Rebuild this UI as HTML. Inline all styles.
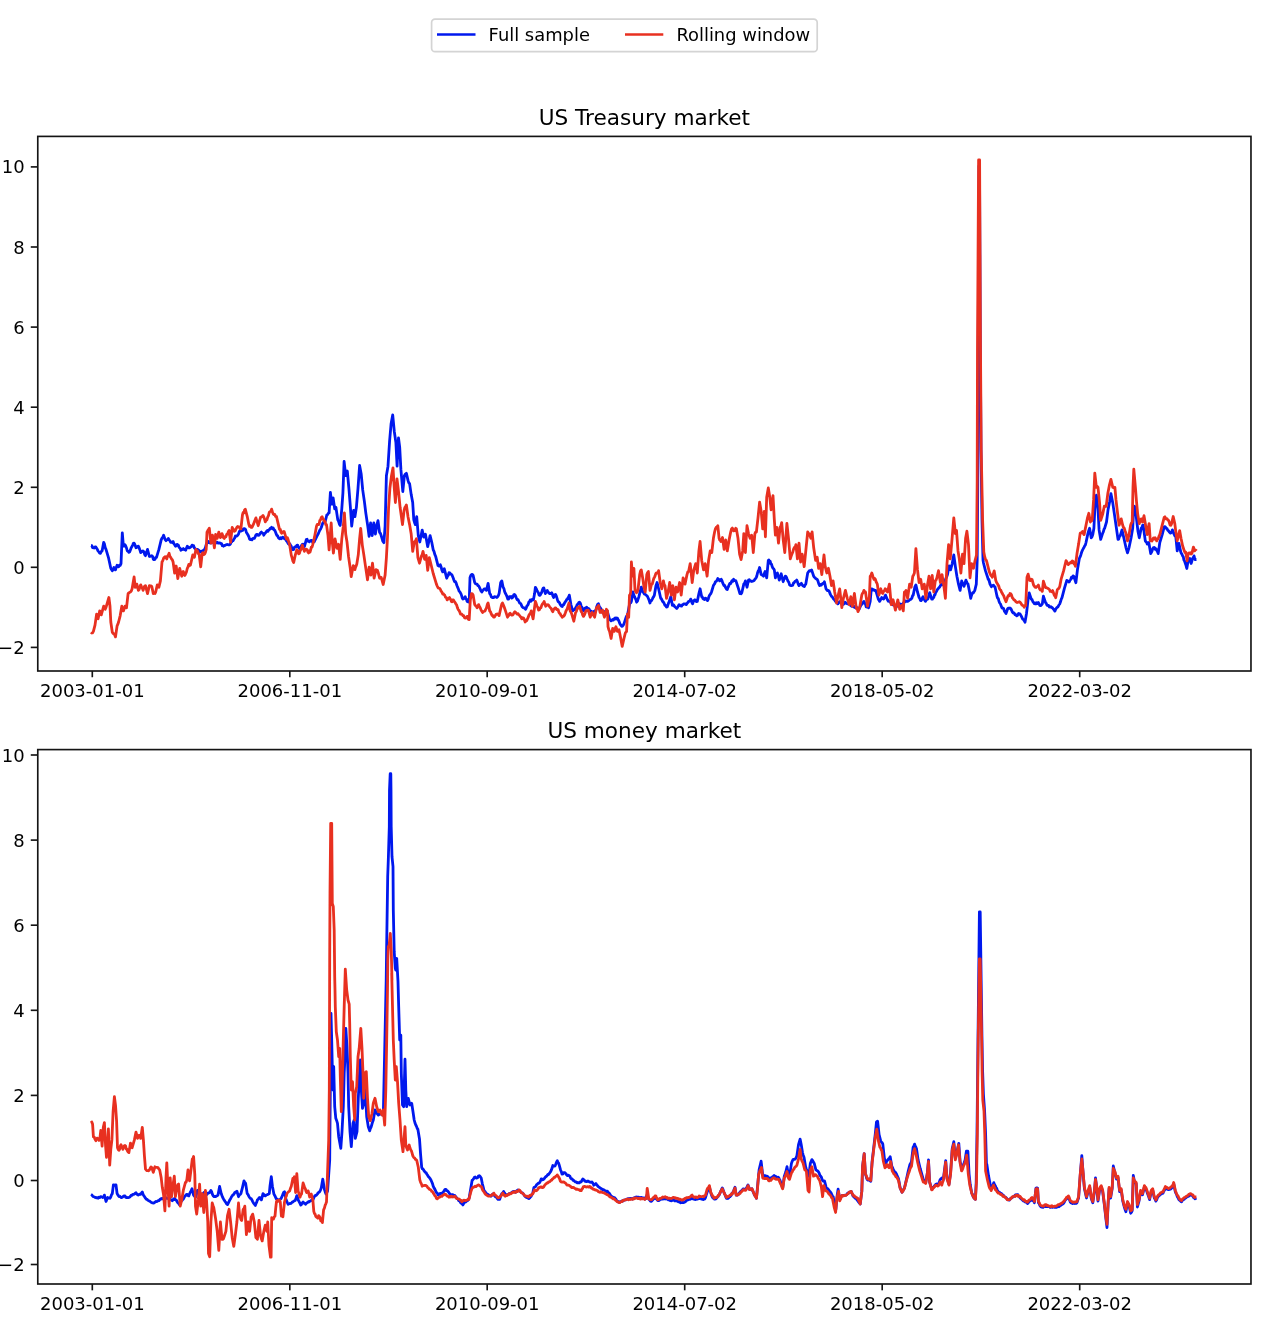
<!DOCTYPE html>
<html><head><meta charset="utf-8"><title>chart</title>
<style>html,body{margin:0;padding:0;background:#fff}</style></head>
<body>
<svg width="1268" height="1321" viewBox="0 0 1268 1321" style="display:block;filter:blur(0.4px)" font-family="'DejaVu Sans','Liberation Sans',sans-serif" fill="#000">
<rect width="1268" height="1321" fill="#fff"/>
<rect x="431.6" y="19.2" width="385.6" height="32.4" rx="3.4" fill="#fff" stroke="#d4d4d4" stroke-width="1.7"/>
<line x1="437" y1="34.5" x2="475.5" y2="34.5" stroke="#0018ee" stroke-width="2.6"/>
<line x1="625" y1="34.5" x2="663.3" y2="34.5" stroke="#e83020" stroke-width="2.6"/>
<text x="488.6" y="40.8" font-size="17.9">Full sample</text>
<text x="676.4" y="40.8" font-size="17.9">Rolling window</text>
<text x="644.4" y="125.3" font-size="21.6" text-anchor="middle">US Treasury market</text>
<g stroke="#141414" stroke-width="1.65" fill="none">
<line x1="92.3" y1="670.95" x2="92.3" y2="677.25"/>
<line x1="289.8" y1="670.95" x2="289.8" y2="677.25"/>
<line x1="487.2" y1="670.95" x2="487.2" y2="677.25"/>
<line x1="684.7" y1="670.95" x2="684.7" y2="677.25"/>
<line x1="882.2" y1="670.95" x2="882.2" y2="677.25"/>
<line x1="1079.7" y1="670.95" x2="1079.7" y2="677.25"/>
<line x1="30.77" y1="647.4" x2="37.77" y2="647.4"/>
<line x1="30.77" y1="567.3" x2="37.77" y2="567.3"/>
<line x1="30.77" y1="487.3" x2="37.77" y2="487.3"/>
<line x1="30.77" y1="407.2" x2="37.77" y2="407.2"/>
<line x1="30.77" y1="327.1" x2="37.77" y2="327.1"/>
<line x1="30.77" y1="247.0" x2="37.77" y2="247.0"/>
<line x1="30.77" y1="166.9" x2="37.77" y2="166.9"/>
</g>
<text x="92.3" y="697.2" font-size="18.0" text-anchor="middle">2003-01-01</text>
<text x="289.8" y="697.2" font-size="18.0" text-anchor="middle">2006-11-01</text>
<text x="487.2" y="697.2" font-size="18.0" text-anchor="middle">2010-09-01</text>
<text x="684.7" y="697.2" font-size="18.0" text-anchor="middle">2014-07-02</text>
<text x="882.2" y="697.2" font-size="18.0" text-anchor="middle">2018-05-02</text>
<text x="1079.7" y="697.2" font-size="18.0" text-anchor="middle">2022-03-02</text>
<text x="24.6" y="653.9" font-size="18.0" text-anchor="end">−2</text>
<text x="24.6" y="573.8" font-size="18.0" text-anchor="end">0</text>
<text x="24.6" y="493.8" font-size="18.0" text-anchor="end">2</text>
<text x="24.6" y="413.7" font-size="18.0" text-anchor="end">4</text>
<text x="24.6" y="333.6" font-size="18.0" text-anchor="end">6</text>
<text x="24.6" y="253.5" font-size="18.0" text-anchor="end">8</text>
<text x="24.6" y="173.4" font-size="18.0" text-anchor="end">10</text>
<g fill="none" stroke-width="2.8" stroke-linejoin="round" stroke-linecap="butt">
<path stroke="#0018ee" d="M91.0,545.5 L91.8,545.6 L92.6,547.7 L93.4,547.8 L94.2,548.0 L95.0,546.9 L95.8,547.0 L96.6,548.3 L97.4,549.6 L98.1,551.0 L98.9,552.0 L99.7,553.1 L100.5,553.3 L101.3,551.4 L102.1,551.0 L103.7,542.3 L104.4,543.8 L105.2,547.6 L106.0,549.4 L108.4,557.3 L110.8,568.3 L111.5,569.4 L112.3,570.7 L113.1,569.6 L113.9,567.5 L114.7,567.8 L115.5,569.9 L116.3,567.4 L117.1,565.2 L117.9,566.4 L118.6,566.8 L119.4,565.2 L120.2,565.4 L121.0,563.6 L122.3,532.8 L123.4,546.2 L124.2,546.2 L125.0,544.7 L125.7,545.9 L126.5,548.0 L127.3,551.0 L128.1,551.3 L128.9,552.3 L129.7,551.8 L130.5,549.7 L131.3,547.6 L132.1,546.2 L132.7,545.1 L133.4,543.3 L134.1,543.1 L134.7,544.2 L135.4,546.1 L136.0,547.8 L136.8,547.3 L137.6,546.3 L138.4,546.2 L139.1,547.9 L139.9,549.9 L140.7,552.6 L141.5,552.0 L142.3,551.1 L143.1,551.0 L143.9,551.7 L144.7,554.7 L145.5,555.7 L147.5,549.4 L149.4,556.5 L150.2,556.3 L151.0,556.2 L151.8,555.7 L152.6,556.5 L153.3,559.2 L154.1,559.7 L154.9,559.5 L155.7,557.4 L156.5,557.3 L158.9,549.4 L161.2,539.9 L162.0,538.1 L162.8,537.2 L163.6,535.2 L164.4,537.4 L165.2,539.7 L166.0,540.7 L166.8,539.8 L167.5,539.7 L168.3,538.4 L169.1,540.0 L169.9,540.6 L170.7,542.3 L171.5,542.2 L172.3,542.5 L173.1,541.5 L173.8,543.7 L174.6,544.7 L175.4,546.2 L176.2,545.9 L177.0,544.4 L177.8,544.7 L178.4,545.3 L179.1,547.4 L179.7,547.8 L180.3,548.5 L180.9,550.2 L181.7,549.8 L182.5,549.5 L183.3,548.6 L184.1,549.5 L184.9,549.4 L185.7,550.2 L186.5,548.1 L187.3,546.2 L188.0,546.8 L188.8,547.8 L189.6,547.8 L190.3,547.4 L190.9,546.7 L191.5,546.4 L192.1,545.1 L192.8,545.5 L193.6,545.7 L194.4,547.9 L195.1,548.6 L195.9,549.7 L196.7,549.3 L197.5,549.4 L198.3,550.0 L199.1,550.4 L199.9,551.8 L200.7,551.5 L201.5,552.1 L202.2,551.0 L203.0,550.9 L203.8,550.0 L204.6,549.4 L205.4,547.7 L206.2,544.7 L207.0,543.1 L207.8,542.6 L208.5,541.5 L209.3,542.9 L210.1,542.7 L210.9,543.1 L211.5,542.7 L212.2,542.0 L212.8,542.2 L213.4,542.7 L214.1,541.5 L214.7,540.8 L215.3,542.3 L216.0,542.6 L216.6,542.8 L217.2,542.3 L217.9,542.9 L218.5,543.2 L219.1,542.8 L219.7,543.0 L220.4,543.1 L221.0,543.6 L221.6,543.6 L222.3,545.7 L222.9,545.7 L223.5,546.2 L224.2,545.4 L224.8,545.6 L225.4,545.3 L226.1,544.7 L226.7,544.7 L227.3,544.4 L227.9,544.7 L228.6,544.9 L229.2,544.9 L229.8,544.7 L230.5,543.8 L231.1,542.2 L231.7,541.8 L232.4,540.9 L233.0,540.7 L233.8,539.3 L234.6,538.2 L235.4,536.0 L236.2,536.3 L236.9,536.0 L237.7,535.2 L238.5,534.2 L239.3,531.6 L240.1,530.5 L240.9,531.1 L241.7,530.8 L242.5,530.5 L243.2,529.2 L244.0,528.6 L244.8,528.9 L245.6,529.6 L246.4,532.5 L247.2,533.6 L248.0,535.0 L248.8,536.6 L249.6,539.1 L250.3,539.6 L251.1,539.4 L251.9,539.9 L252.7,538.6 L253.5,538.3 L254.3,538.4 L255.1,537.1 L255.9,535.1 L256.7,534.4 L257.4,534.3 L258.2,535.3 L259.0,535.2 L259.8,534.1 L260.6,532.8 L261.4,532.1 L262.2,533.1 L263.0,533.3 L263.8,535.2 L264.5,533.9 L265.3,533.0 L266.1,532.1 L266.8,531.0 L267.4,530.4 L268.0,531.4 L268.6,530.2 L269.3,529.7 L270.1,528.4 L270.9,528.3 L271.6,527.3 L272.4,528.7 L273.2,528.0 L274.0,529.7 L274.8,530.4 L275.6,532.2 L276.4,534.4 L277.0,535.7 L277.6,535.6 L278.2,537.4 L278.8,538.2 L279.5,538.8 L280.1,538.6 L280.7,537.7 L281.4,538.7 L282.0,538.1 L282.6,537.2 L283.2,537.7 L283.9,537.7 L284.5,538.9 L285.1,538.9 L285.8,539.6 L286.6,541.0 L287.4,541.9 L288.1,543.5 L288.9,544.3 L289.7,543.8 L290.5,545.1 L291.3,546.3 L292.1,549.1 L292.9,549.8 L293.7,549.5 L294.4,547.4 L295.2,546.7 L296.0,546.8 L296.8,545.3 L297.6,545.1 L298.4,547.2 L299.2,548.2 L300.0,549.1 L300.8,547.3 L301.5,545.5 L302.3,544.3 L303.0,544.2 L303.7,546.6 L304.4,546.7 L306.3,539.6 L307.1,539.3 L307.9,541.2 L308.6,541.2 L309.4,541.7 L310.2,540.8 L311.0,540.4 L311.8,540.3 L312.6,542.1 L313.4,542.0 L314.2,541.8 L315.0,540.2 L315.7,538.8 L316.5,537.2 L317.3,535.4 L318.1,534.1 L318.9,532.2 L319.7,530.4 L320.5,529.3 L321.3,527.5 L322.1,525.0 L322.8,523.0 L323.6,522.0 L324.4,521.3 L325.2,521.5 L326.8,515.1 L327.6,514.7 L328.4,513.2 L329.1,512.8 L330.4,492.3 L331.8,504.1 L333.1,497.8 L334.7,508.8 L335.3,508.0 L335.9,507.3 L337.8,519.9 L338.6,521.4 L339.4,524.2 L340.2,525.4 L341.8,508.8 L342.9,493.1 L344.1,461.5 L345.7,475.7 L346.5,474.1 L347.3,471.0 L348.9,488.3 L350.4,507.3 L351.7,526.2 L353.6,510.4 L354.9,516.7 L356.4,507.3 L358.0,488.3 L359.6,465.5 L361.2,474.1 L362.7,489.9 L364.3,500.9 L365.9,513.6 L367.8,526.2 L369.1,536.4 L370.6,523.0 L372.2,535.6 L373.8,523.0 L375.4,534.1 L376.9,524.6 L378.0,520.7 L379.6,532.5 L380.4,533.2 L381.2,535.6 L382.8,541.2 L383.9,542.7 L385.1,526.2 L386.4,475.7 L388.0,466.2 L389.6,441.0 L391.1,423.7 L392.7,415.0 L394.3,431.5 L395.9,442.6 L397.1,466.2 L398.5,437.9 L399.7,447.3 L400.9,469.4 L402.8,491.5 L404.4,475.7 L405.1,474.4 L405.8,473.8 L406.4,473.3 L408.0,480.4 L408.8,482.9 L409.6,483.6 L411.2,494.6 L412.7,502.5 L413.8,519.9 L414.6,522.7 L415.4,524.6 L416.7,516.7 L418.3,535.6 L419.8,542.0 L422.2,530.1 L423.8,537.2 L424.6,535.4 L425.4,534.1 L427.7,546.7 L430.1,535.6 L431.7,542.0 L433.2,549.8 L434.0,551.4 L434.8,554.4 L435.6,556.2 L438.0,565.6 L438.8,566.0 L439.6,565.9 L440.3,564.8 L441.1,566.9 L441.9,570.2 L442.7,571.9 L443.5,570.7 L444.3,568.8 L446.7,578.2 L447.4,576.4 L448.2,575.4 L449.0,572.7 L449.8,572.8 L450.6,574.2 L451.4,574.3 L452.2,575.4 L453.0,577.4 L453.8,579.8 L454.5,581.6 L455.3,581.4 L456.1,583.0 L456.9,585.5 L457.7,587.4 L458.5,589.3 L459.1,591.2 L459.7,591.6 L460.4,592.8 L461.0,593.9 L461.6,595.6 L462.3,598.0 L462.9,599.1 L463.7,598.5 L464.4,598.3 L465.2,596.7 L465.9,599.0 L466.5,599.2 L467.1,601.5 L467.8,601.8 L468.5,601.3 L469.2,602.2 L470.0,577.8 L470.8,575.4 L471.5,574.6 L472.3,574.3 L473.1,575.4 L474.7,582.5 L475.5,583.7 L476.3,584.1 L477.1,584.1 L477.9,585.7 L478.6,585.9 L479.4,587.3 L480.2,589.0 L481.0,590.9 L481.8,592.0 L482.6,590.7 L483.4,590.0 L484.2,588.8 L485.0,588.9 L485.7,589.1 L486.5,590.4 L488.1,583.3 L489.7,593.6 L490.5,594.5 L491.3,596.9 L492.1,597.5 L492.8,597.4 L493.6,597.7 L494.4,596.7 L495.2,596.9 L496.0,596.8 L496.8,597.5 L497.6,596.7 L498.4,595.5 L499.1,593.6 L500.7,582.5 L501.8,580.9 L503.1,587.3 L503.9,588.5 L504.7,591.8 L505.5,593.6 L506.2,594.7 L507.0,596.6 L507.8,599.1 L508.6,599.0 L509.4,596.7 L510.2,596.7 L511.0,596.5 L511.8,598.1 L512.6,597.5 L513.2,596.3 L513.8,594.7 L514.4,594.4 L515.1,595.1 L515.8,596.5 L516.5,598.3 L517.3,599.8 L518.1,599.7 L518.9,601.5 L519.7,603.2 L520.4,603.3 L521.2,604.6 L522.0,606.5 L522.8,607.4 L523.6,607.8 L524.2,607.9 L524.9,608.4 L525.5,609.3 L526.2,608.0 L526.9,606.0 L527.5,605.4 L528.2,604.4 L528.9,601.9 L529.6,601.5 L530.2,600.0 L530.9,601.3 L531.5,599.9 L532.1,599.5 L532.7,600.0 L533.4,599.9 L534.6,593.6 L535.4,587.3 L536.2,588.7 L537.0,590.4 L537.7,591.7 L538.4,592.8 L539.1,595.1 L539.7,595.4 L540.3,594.9 L540.9,593.6 L541.7,592.4 L542.5,589.6 L543.2,588.1 L543.8,588.0 L545.4,593.6 L546.0,592.0 L546.6,591.7 L547.3,590.4 L548.0,592.3 L548.8,592.6 L549.6,593.6 L550.3,593.6 L551.0,593.3 L551.7,592.8 L552.3,593.9 L552.9,596.0 L553.6,597.5 L554.2,596.1 L554.8,594.9 L555.5,594.4 L556.1,595.4 L556.8,597.6 L557.5,599.9 L558.2,601.8 L558.9,601.9 L559.6,603.0 L560.2,604.4 L560.8,605.4 L561.5,606.2 L562.2,606.5 L563.0,604.9 L563.8,604.6 L564.6,602.9 L565.4,601.7 L566.2,600.7 L566.8,599.3 L567.4,599.2 L568.1,597.5 L568.7,597.0 L569.3,595.1 L570.9,604.6 L572.8,610.9 L573.5,610.0 L574.2,609.6 L574.9,609.3 L575.6,607.8 L576.4,606.3 L577.2,604.6 L578.0,604.0 L578.8,602.6 L579.6,602.2 L580.4,603.3 L581.2,606.2 L582.0,607.3 L582.7,608.6 L583.5,610.9 L584.3,610.0 L585.1,608.0 L585.9,607.8 L586.7,607.3 L587.5,608.5 L588.3,608.5 L589.1,609.0 L589.8,610.7 L590.6,610.9 L591.4,611.4 L592.2,612.6 L593.0,612.5 L593.8,611.3 L594.6,611.4 L595.4,610.9 L596.2,609.1 L596.9,606.2 L597.7,604.2 L598.5,603.8 L599.3,606.6 L600.1,607.8 L600.9,608.7 L601.7,611.4 L602.5,612.5 L603.2,613.1 L604.0,612.5 L604.8,611.7 L605.6,611.1 L606.4,610.5 L607.2,610.9 L609.6,619.6 L610.3,619.9 L611.1,620.9 L611.9,620.4 L612.7,619.5 L613.5,620.0 L614.3,618.8 L615.1,617.9 L615.9,619.0 L616.7,618.0 L617.4,618.2 L618.2,619.8 L619.0,621.2 L619.8,623.5 L620.6,624.9 L621.4,625.9 L622.0,626.4 L622.6,626.0 L623.3,625.1 L624.0,623.7 L624.6,621.8 L625.3,619.6 L626.1,617.2 L626.9,615.8 L627.7,614.1 L629.5,604.6 L630.1,602.9 L630.7,602.9 L631.4,601.4 L632.9,592.0 L633.7,594.6 L634.5,596.7 L635.2,598.1 L635.9,599.6 L636.6,602.2 L637.4,601.2 L638.1,599.1 L638.9,596.7 L641.3,587.2 L642.1,589.7 L642.9,592.0 L643.7,592.8 L644.4,594.2 L645.2,594.3 L646.0,595.0 L646.8,595.7 L647.6,596.7 L648.4,598.5 L649.2,600.5 L650.0,603.0 L650.8,600.8 L651.5,600.6 L652.3,599.1 L653.0,597.6 L653.7,596.6 L654.4,595.1 L656.0,585.6 L657.1,582.5 L658.6,588.8 L660.7,598.3 L661.3,598.5 L662.0,600.1 L662.6,601.4 L663.4,602.1 L664.2,603.4 L665.0,605.4 L665.7,605.5 L666.5,607.0 L667.3,606.9 L667.9,604.9 L668.6,603.1 L669.2,601.4 L670.0,599.3 L670.8,596.7 L672.4,605.4 L673.0,605.1 L673.7,605.0 L674.4,606.2 L675.2,607.0 L676.0,607.7 L676.8,608.5 L677.6,607.5 L678.4,605.8 L679.1,604.6 L679.9,605.4 L680.7,606.0 L681.5,606.2 L682.3,604.9 L683.1,604.6 L683.9,603.8 L684.7,604.0 L685.5,603.8 L686.2,604.6 L687.0,603.4 L687.8,602.6 L688.6,601.4 L689.3,601.4 L690.0,600.6 L690.7,599.1 L691.3,600.2 L691.9,602.5 L692.6,603.8 L693.3,601.7 L694.1,600.4 L694.9,599.8 L695.7,600.4 L696.5,601.6 L697.3,601.4 L698.9,593.5 L700.1,588.8 L701.7,596.7 L702.3,596.9 L703.0,598.7 L703.6,599.1 L704.4,599.5 L705.2,598.2 L706.0,598.3 L706.8,599.8 L707.5,600.6 L708.2,599.4 L708.9,596.7 L709.6,595.1 L710.2,594.4 L710.9,593.4 L711.5,592.0 L713.4,585.6 L714.1,584.5 L714.7,583.7 L715.4,581.7 L716.2,581.4 L717.0,580.4 L717.8,578.5 L718.4,579.5 L719.1,579.5 L719.7,580.9 L720.5,579.7 L721.3,579.3 L721.9,580.4 L722.6,582.6 L723.3,584.1 L724.0,585.6 L724.7,585.4 L725.4,587.2 L726.0,588.3 L726.6,589.2 L727.3,589.6 L727.9,587.7 L728.5,586.5 L729.1,584.9 L729.8,583.5 L730.5,583.7 L731.2,582.5 L732.0,580.6 L732.8,581.3 L733.6,579.3 L734.4,580.4 L735.1,580.6 L735.9,580.9 L738.0,587.2 L739.9,593.5 L740.5,592.9 L741.1,593.8 L741.8,592.7 L743.8,584.1 L744.6,583.3 L745.4,580.9 L747.0,587.2 L748.5,580.1 L749.3,579.7 L750.1,581.1 L750.9,580.9 L751.7,581.5 L752.5,581.2 L753.3,580.9 L754.1,580.5 L754.9,579.2 L755.6,578.5 L756.3,577.5 L756.9,575.7 L757.5,573.0 L758.2,571.0 L758.9,569.9 L759.6,567.5 L761.2,574.6 L762.0,575.0 L762.7,575.1 L763.5,576.2 L764.3,573.5 L765.1,571.5 L766.7,577.8 L768.3,560.4 L768.9,560.0 L769.5,561.7 L770.2,561.2 L770.8,563.9 L771.5,564.2 L772.2,566.7 L772.9,568.0 L773.6,568.7 L774.3,569.9 L775.4,577.8 L776.0,575.5 L776.7,574.2 L777.4,573.0 L779.3,580.1 L781.2,573.8 L783.2,581.7 L783.9,579.4 L784.6,578.5 L785.3,576.2 L785.9,576.3 L786.6,577.7 L787.2,579.3 L788.0,581.1 L788.8,582.2 L789.6,584.9 L790.3,585.4 L791.1,585.6 L791.9,585.6 L792.7,585.2 L793.5,583.0 L794.3,582.5 L795.1,581.3 L795.9,581.0 L796.7,580.1 L797.4,581.6 L798.2,584.0 L799.0,585.6 L799.8,584.4 L800.6,584.4 L801.4,583.3 L802.2,584.9 L803.0,585.9 L803.8,586.4 L804.4,586.5 L805.1,584.9 L805.8,584.1 L807.7,573.0 L808.5,571.8 L809.3,570.7 L810.1,571.0 L810.9,570.6 L811.6,569.9 L813.7,576.2 L814.3,577.1 L815.0,577.6 L815.6,578.5 L816.4,578.9 L817.2,579.4 L817.9,580.9 L818.8,583.8 L819.7,585.6 L820.5,584.4 L821.3,585.0 L822.1,584.1 L822.9,583.4 L823.7,583.3 L824.4,581.7 L826.0,588.8 L826.8,589.8 L827.6,590.7 L828.4,590.4 L829.2,591.3 L830.0,593.5 L830.8,595.1 L831.5,596.3 L832.3,596.9 L833.1,598.3 L833.9,599.3 L834.7,600.1 L835.5,601.4 L836.3,602.3 L837.1,602.1 L837.9,603.8 L838.6,602.9 L839.4,602.1 L840.2,601.4 L841.0,602.1 L841.8,603.3 L842.6,604.6 L843.4,604.3 L844.2,603.3 L845.0,602.2 L845.7,602.7 L846.5,603.5 L847.3,603.8 L847.9,603.9 L848.6,603.9 L849.2,603.8 L849.8,604.6 L850.5,605.4 L851.1,605.7 L851.7,606.4 L852.4,606.4 L853.0,606.0 L853.6,606.2 L854.3,607.3 L854.9,606.7 L855.5,607.7 L856.2,607.2 L856.8,607.7 L857.6,608.7 L858.4,609.7 L859.1,609.3 L859.9,607.4 L860.7,605.6 L861.5,604.6 L862.3,603.7 L863.1,602.5 L863.9,601.4 L864.7,603.0 L865.5,604.2 L866.2,606.9 L867.0,607.0 L867.8,607.3 L868.6,607.7 L870.2,601.4 L871.3,588.8 L872.0,588.9 L872.7,590.0 L873.3,589.6 L874.1,590.0 L874.9,590.5 L875.7,590.4 L877.6,596.7 L878.3,599.0 L879.0,600.3 L879.7,601.4 L880.3,600.1 L881.0,599.2 L881.7,597.5 L882.3,598.3 L883.0,598.8 L883.6,599.1 L884.2,598.0 L884.9,596.3 L885.5,595.1 L886.2,596.9 L886.9,598.5 L887.5,599.8 L888.3,601.2 L889.1,601.4 L889.9,601.4 L890.7,602.8 L891.5,603.5 L892.3,603.8 L893.1,604.9 L893.8,605.0 L894.6,605.4 L895.4,605.4 L896.2,605.5 L897.0,606.2 L897.8,605.7 L898.6,605.2 L899.4,603.8 L900.2,604.4 L900.9,604.2 L901.7,605.4 L902.5,604.9 L903.3,603.2 L904.1,602.2 L904.9,601.9 L905.7,600.9 L906.5,601.4 L907.3,601.2 L908.0,601.3 L908.8,600.6 L909.6,600.0 L910.4,599.3 L911.2,599.1 L911.9,598.0 L912.6,595.6 L913.2,595.1 L914.8,587.2 L915.9,584.9 L917.5,592.0 L919.1,597.5 L919.8,598.5 L920.5,600.4 L921.1,600.6 L921.8,599.7 L922.4,597.8 L923.0,596.7 L923.8,598.6 L924.6,600.0 L925.4,601.4 L926.2,600.1 L927.0,599.3 L927.8,599.1 L929.7,592.7 L931.7,599.1 L932.4,599.2 L933.1,597.6 L933.8,597.5 L934.4,595.1 L935.0,594.9 L935.6,592.7 L936.4,591.5 L937.2,589.9 L938.0,588.8 L938.8,587.8 L939.6,587.1 L940.4,585.6 L941.2,584.5 L942.0,584.9 L942.7,584.1 L943.5,583.4 L944.3,582.5 L945.1,580.9 L945.9,578.4 L946.7,576.9 L947.5,574.6 L949.1,565.9 L949.8,567.4 L950.6,569.9 L952.2,563.6 L953.8,554.9 L955.4,566.7 L956.9,576.2 L958.5,584.1 L960.1,590.4 L961.7,580.9 L962.5,582.9 L963.2,584.0 L964.0,586.4 L965.9,580.1 L966.6,582.0 L967.3,583.4 L968.0,584.1 L969.6,592.0 L970.7,598.3 L971.3,596.1 L972.0,594.1 L972.7,592.7 L973.4,592.8 L974.1,591.5 L974.8,590.4 L976.3,584.1 L977.2,560.0 L977.8,480.0 L978.2,350.0 L979.0,166.0 L979.5,166.0 L980.3,350.0 L981.0,450.0 L982.0,520.0 L983.0,560.0 L983.5,563.0 L985.5,570.9 L987.6,577.2 L988.2,579.4 L988.8,579.5 L989.5,582.0 L990.1,584.3 L990.7,585.3 L991.4,586.7 L992.0,585.8 L992.7,585.5 L993.4,585.1 L994.2,586.4 L995.0,586.7 L997.0,596.2 L997.7,598.2 L998.3,598.7 L998.9,600.9 L999.7,603.0 L1000.5,604.0 L1001.3,606.4 L1002.1,608.0 L1002.9,607.9 L1003.7,608.8 L1004.4,611.1 L1005.2,612.3 L1006.0,613.5 L1006.8,611.3 L1007.6,608.8 L1008.4,608.1 L1009.2,608.3 L1010.0,608.0 L1010.8,608.6 L1011.5,610.0 L1012.3,611.9 L1013.0,612.8 L1013.7,612.7 L1014.4,613.5 L1015.1,614.7 L1015.9,614.6 L1016.6,615.9 L1017.3,615.5 L1018.0,614.7 L1018.6,613.5 L1019.3,613.7 L1020.0,613.8 L1020.7,615.1 L1021.3,616.2 L1022.0,617.7 L1022.6,619.0 L1023.4,619.4 L1024.2,620.6 L1025.0,622.2 L1026.5,613.5 L1028.1,599.3 L1029.2,593.0 L1031.3,599.3 L1032.1,599.6 L1032.8,601.6 L1033.6,602.5 L1034.4,603.7 L1035.2,603.0 L1036.0,604.0 L1036.8,602.7 L1037.6,603.4 L1038.4,602.5 L1039.1,604.1 L1039.9,605.4 L1040.7,605.6 L1041.5,605.0 L1042.3,604.0 L1043.4,596.2 L1045.5,602.5 L1046.2,603.2 L1047.0,605.2 L1047.8,605.6 L1048.6,605.5 L1049.4,607.0 L1050.2,607.2 L1051.0,606.7 L1051.8,607.5 L1052.6,608.0 L1053.3,609.0 L1054.1,609.9 L1054.9,611.1 L1055.7,609.2 L1056.5,608.0 L1057.3,607.2 L1058.1,606.7 L1058.9,605.0 L1059.7,604.0 L1060.4,602.1 L1061.2,599.3 L1062.0,597.7 L1064.4,588.3 L1066.8,580.4 L1067.5,581.3 L1068.3,581.1 L1069.1,582.0 L1069.9,580.5 L1070.7,579.5 L1071.5,577.2 L1072.3,577.9 L1073.1,575.9 L1073.8,576.4 L1075.9,582.7 L1077.5,569.3 L1079.4,558.3 L1080.2,556.7 L1080.9,554.7 L1081.7,552.0 L1082.5,550.1 L1083.3,548.6 L1084.1,547.3 L1084.7,545.8 L1085.4,544.9 L1086.0,542.5 L1088.0,533.1 L1088.8,530.5 L1089.6,528.3 L1091.2,537.8 L1092.0,536.9 L1092.8,534.6 L1093.9,528.3 L1095.1,503.1 L1096.4,495.2 L1098.0,509.4 L1099.1,529.9 L1100.7,539.4 L1102.7,533.1 L1103.3,531.9 L1104.0,529.3 L1104.6,528.3 L1106.5,522.0 L1108.1,509.4 L1109.7,501.5 L1110.9,493.6 L1112.8,503.1 L1114.4,514.1 L1116.0,525.2 L1118.0,539.4 L1118.7,539.1 L1119.4,536.4 L1120.1,536.2 L1122.0,529.9 L1123.8,537.8 L1125.9,547.3 L1127.5,552.8 L1129.1,547.3 L1131.1,537.8 L1132.7,528.3 L1133.8,506.2 L1134.6,506.4 L1135.4,507.8 L1136.5,518.9 L1138.0,531.5 L1139.3,537.8 L1141.2,528.3 L1141.9,527.6 L1142.6,525.4 L1143.2,525.2 L1145.3,540.9 L1145.9,541.8 L1146.6,542.4 L1147.2,544.1 L1148.0,543.2 L1148.8,542.5 L1150.7,553.6 L1151.3,552.6 L1152.0,551.1 L1152.7,548.8 L1153.4,547.7 L1154.1,547.5 L1154.8,548.0 L1155.4,549.4 L1156.0,548.8 L1156.7,550.4 L1157.4,551.6 L1158.2,553.6 L1159.8,542.5 L1162.2,534.6 L1164.2,526.8 L1164.9,526.6 L1165.5,527.1 L1166.1,528.3 L1166.9,528.3 L1167.7,530.2 L1168.5,530.7 L1169.2,531.9 L1169.9,532.6 L1170.5,533.1 L1171.2,532.6 L1171.8,531.3 L1172.4,529.9 L1173.1,531.3 L1173.7,533.3 L1174.3,534.6 L1175.0,536.0 L1175.7,535.7 L1177.2,550.9 L1178.9,543.3 L1180.8,552.1 L1181.4,553.6 L1182.0,554.2 L1182.6,555.9 L1183.3,556.8 L1183.9,560.0 L1184.5,560.9 L1185.2,563.0 L1185.8,564.7 L1186.8,568.5 L1188.3,559.7 L1189.1,558.8 L1189.8,558.4 L1191.1,563.5 L1192.7,558.4 L1193.4,557.4 L1194.0,555.9 L1194.6,557.9 L1195.3,559.7 L1195.9,559.7 L1196.5,559.7"/>
<path stroke="#e83020" d="M91.0,632.2 L91.8,633.0 L92.6,632.8 L93.4,631.4 L95.0,625.1 L96.6,614.1 L97.4,615.4 L98.1,618.8 L99.7,610.9 L100.5,611.9 L101.3,614.9 L103.7,606.2 L104.4,608.6 L105.2,609.3 L106.0,607.5 L106.8,604.6 L108.9,597.5 L110.0,606.2 L110.8,622.0 L112.3,632.2 L113.1,633.4 L113.9,633.8 L114.7,634.9 L115.5,636.9 L117.1,625.9 L117.9,624.2 L118.6,622.0 L120.2,615.6 L121.8,606.2 L122.6,608.8 L123.4,610.9 L124.2,608.7 L125.0,606.2 L125.7,606.2 L126.5,607.8 L128.1,593.6 L128.9,592.9 L129.7,592.3 L130.5,592.0 L131.3,590.9 L132.1,588.8 L134.1,577.0 L135.2,587.3 L136.0,586.9 L136.8,584.1 L138.4,590.4 L139.1,589.6 L139.9,586.8 L140.7,584.9 L141.5,586.6 L142.3,588.0 L143.1,590.4 L143.9,587.7 L144.7,586.1 L145.5,585.7 L147.5,593.6 L149.4,585.7 L150.2,585.9 L151.0,585.8 L151.8,586.5 L153.3,593.6 L154.1,592.8 L154.9,593.5 L155.7,592.0 L157.3,584.9 L158.1,586.1 L158.9,587.3 L160.4,580.9 L162.0,562.0 L162.8,560.6 L163.6,558.2 L164.4,557.3 L165.2,556.7 L166.0,557.9 L166.8,558.9 L167.5,556.2 L168.3,555.2 L169.1,553.3 L169.9,556.4 L170.7,557.4 L171.5,558.9 L172.3,559.7 L173.1,562.0 L174.6,573.1 L176.2,566.0 L177.8,578.6 L179.7,568.3 L181.7,576.2 L182.5,574.8 L183.3,571.5 L184.1,574.2 L184.9,575.4 L185.7,573.6 L186.5,571.7 L187.3,568.3 L188.0,567.0 L188.8,564.4 L189.6,565.5 L190.4,565.2 L192.8,554.9 L193.6,555.8 L194.4,557.3 L195.9,549.4 L196.7,551.3 L197.5,551.0 L198.3,553.7 L199.1,554.1 L200.7,566.8 L202.2,553.3 L203.0,552.7 L203.8,554.6 L204.6,554.1 L205.4,552.4 L206.2,549.4 L207.0,532.1 L207.8,530.6 L208.5,529.5 L209.3,528.1 L210.9,543.1 L212.5,535.2 L214.4,547.8 L215.6,534.4 L216.4,536.4 L217.2,538.4 L218.8,532.1 L220.4,537.6 L221.2,536.8 L222.0,533.6 L222.7,535.2 L223.5,537.7 L224.3,538.4 L225.1,536.6 L225.9,536.8 L226.7,534.4 L227.5,534.2 L228.3,531.7 L229.1,530.5 L230.6,542.3 L232.2,527.3 L233.0,528.8 L233.8,531.1 L234.6,531.3 L235.4,530.6 L236.2,528.6 L236.9,527.3 L237.7,526.5 L238.5,526.8 L239.3,527.3 L240.1,528.7 L240.9,528.9 L242.5,514.7 L243.2,512.4 L243.9,513.1 L244.6,509.9 L245.3,509.2 L247.2,516.3 L248.8,524.2 L249.6,526.4 L250.3,525.7 L251.1,527.3 L251.9,527.5 L252.7,525.8 L253.5,524.2 L254.3,522.1 L255.1,520.0 L255.9,517.9 L258.2,525.7 L260.6,517.1 L261.4,517.0 L262.2,516.3 L263.0,515.5 L263.8,517.1 L264.5,518.9 L265.3,521.8 L266.1,520.3 L266.9,519.9 L267.7,517.1 L268.5,515.6 L269.3,512.2 L270.1,511.5 L270.9,511.3 L271.6,509.2 L272.4,511.7 L273.2,514.0 L274.0,514.7 L274.8,514.4 L275.6,516.4 L276.4,516.3 L277.9,522.6 L279.5,529.3 L280.3,529.4 L281.0,532.4 L281.8,533.3 L282.6,532.1 L283.4,531.5 L284.2,531.7 L285.8,537.2 L286.6,539.1 L287.4,537.7 L288.1,539.6 L289.7,545.1 L291.3,555.4 L292.1,557.8 L292.9,561.1 L293.7,562.5 L295.2,555.4 L296.8,549.8 L297.4,550.4 L298.1,551.7 L298.7,553.8 L299.4,553.5 L300.1,550.9 L300.8,549.8 L301.5,548.0 L302.3,545.1 L304.4,551.4 L305.0,549.5 L305.6,549.5 L306.3,549.1 L307.1,549.6 L307.9,552.1 L308.6,553.0 L309.3,550.9 L310.0,552.0 L310.7,549.8 L311.3,547.1 L312.0,547.2 L312.6,545.1 L314.5,537.2 L316.5,526.2 L317.2,524.5 L317.9,524.5 L318.6,524.6 L319.2,523.8 L319.8,520.6 L320.5,519.9 L321.3,517.5 L322.1,516.7 L322.8,518.8 L323.6,519.6 L324.4,521.5 L325.1,521.4 L325.8,524.7 L326.5,524.6 L328.0,535.6 L329.1,549.8 L331.2,523.0 L332.3,542.0 L333.4,553.0 L335.0,538.8 L337.0,548.3 L337.8,545.5 L338.6,544.3 L340.2,559.3 L341.8,538.8 L343.3,526.2 L344.4,512.8 L345.7,534.1 L347.0,542.0 L348.5,556.2 L350.1,567.2 L351.2,576.7 L353.3,565.6 L354.1,566.5 L354.9,569.6 L355.5,567.3 L356.1,566.2 L356.8,564.0 L358.3,554.6 L359.6,538.8 L360.7,528.5 L362.3,545.1 L363.8,554.6 L365.4,565.6 L367.5,579.8 L369.1,567.2 L370.9,575.1 L372.5,563.2 L374.1,578.2 L376.0,569.6 L376.7,570.9 L377.4,570.2 L378.0,571.9 L379.6,578.2 L380.4,577.4 L381.2,577.4 L383.2,584.5 L385.1,575.1 L386.4,557.7 L387.5,537.2 L388.6,507.3 L389.9,488.3 L391.5,475.7 L393.0,467.8 L394.3,488.3 L395.4,502.5 L397.0,478.9 L398.5,491.5 L400.1,507.3 L402.5,524.6 L404.1,510.4 L404.9,507.4 L405.6,506.6 L406.4,504.9 L408.0,516.7 L409.6,524.6 L411.2,534.1 L412.7,551.4 L414.3,542.0 L415.0,541.5 L415.7,540.4 L416.4,538.8 L417.9,557.7 L419.5,563.2 L421.4,556.2 L422.2,554.5 L423.0,551.4 L424.6,559.3 L425.4,557.8 L426.2,555.4 L427.7,570.3 L429.3,557.7 L430.9,564.0 L433.2,573.5 L435.6,581.4 L436.4,584.1 L437.2,586.0 L438.0,587.7 L438.8,588.2 L439.6,588.3 L440.3,589.3 L441.1,591.1 L441.9,592.1 L442.7,594.0 L443.4,593.7 L444.1,594.7 L444.7,595.1 L445.5,597.4 L446.3,597.6 L447.1,599.9 L447.9,599.2 L448.7,598.1 L449.5,597.5 L450.1,598.8 L450.7,599.5 L451.4,601.5 L452.0,601.8 L452.7,600.0 L453.4,599.9 L454.2,601.4 L455.0,602.4 L455.8,603.8 L456.6,604.8 L457.4,607.6 L458.1,609.3 L458.9,610.3 L459.7,611.7 L460.5,614.1 L461.3,613.8 L462.1,614.5 L462.9,615.6 L463.7,615.7 L464.4,617.5 L465.2,618.0 L465.9,617.5 L466.5,617.8 L467.1,616.4 L467.8,618.3 L468.5,619.4 L469.2,619.6 L470.3,599.9 L471.5,593.6 L472.3,593.9 L473.1,595.1 L474.7,604.6 L475.5,605.6 L476.3,606.3 L477.1,607.8 L477.9,606.3 L478.6,604.6 L479.4,606.4 L480.2,607.8 L481.0,609.9 L481.8,611.3 L482.6,612.5 L483.4,611.5 L484.2,611.3 L485.0,610.9 L485.7,609.4 L486.5,607.8 L487.3,604.5 L488.1,603.0 L489.7,610.9 L490.5,611.7 L491.3,613.9 L492.1,615.6 L492.8,615.5 L493.6,617.1 L494.4,617.2 L495.2,615.7 L496.0,614.4 L496.8,614.1 L497.6,614.0 L498.4,614.6 L499.1,615.6 L501.2,606.2 L501.8,604.1 L502.5,603.0 L503.2,604.6 L503.9,606.2 L504.7,608.5 L505.5,610.9 L507.5,617.2 L508.2,615.9 L508.8,615.5 L509.5,613.7 L510.2,613.3 L511.0,614.5 L511.8,615.2 L512.6,614.9 L513.3,614.2 L514.1,612.6 L514.9,611.7 L515.7,612.5 L516.5,613.4 L517.3,614.1 L518.1,613.8 L518.9,615.0 L519.7,615.6 L520.3,616.7 L521.0,617.2 L521.7,618.8 L522.3,617.8 L523.0,618.8 L523.6,618.0 L524.4,619.7 L525.2,622.0 L526.0,620.9 L526.8,620.6 L527.5,618.8 L528.2,617.4 L528.9,615.3 L529.6,614.1 L530.4,613.4 L531.2,610.9 L533.1,618.8 L534.3,609.3 L535.4,601.5 L536.2,603.6 L537.0,606.2 L537.8,607.3 L538.6,610.1 L539.4,609.7 L540.2,607.8 L540.9,607.8 L541.7,605.4 L542.5,603.8 L543.3,603.2 L544.1,601.5 L544.9,604.1 L545.7,606.2 L546.5,604.8 L547.3,605.0 L548.0,604.6 L548.8,605.5 L549.6,606.7 L550.4,607.8 L551.2,608.5 L552.0,610.5 L552.8,611.7 L553.6,609.6 L554.4,608.7 L555.1,607.8 L555.9,608.1 L556.7,609.6 L557.5,609.3 L558.2,609.9 L558.9,612.4 L559.6,613.3 L560.2,613.7 L560.9,615.4 L561.6,616.0 L562.2,617.2 L563.0,616.4 L563.8,616.1 L564.6,614.9 L565.4,612.8 L566.2,610.5 L567.0,609.3 L569.0,603.0 L570.1,610.9 L570.8,611.8 L571.5,613.3 L572.2,615.6 L573.8,621.2 L575.6,612.5 L576.3,611.5 L576.9,609.6 L577.5,607.8 L578.2,608.1 L578.9,607.1 L579.6,606.2 L581.2,611.7 L582.0,612.4 L582.7,615.1 L583.5,616.4 L584.3,615.1 L585.1,613.2 L585.9,610.9 L586.7,610.6 L587.5,610.1 L588.3,610.1 L590.2,617.2 L590.8,615.6 L591.5,614.6 L592.2,612.5 L593.0,613.7 L593.8,615.7 L594.6,617.2 L596.5,607.8 L597.2,606.9 L597.8,607.0 L598.5,605.4 L600.1,612.5 L600.9,612.3 L601.7,611.7 L602.5,610.1 L604.4,617.2 L606.4,609.3 L607.5,610.9 L608.0,626.7 L608.8,629.7 L609.6,631.4 L611.1,638.5 L612.7,628.3 L613.5,629.5 L614.3,631.4 L615.1,628.6 L615.9,626.7 L616.7,629.0 L617.4,631.4 L618.2,630.2 L619.0,629.8 L620.6,637.7 L622.2,646.4 L623.8,639.3 L625.3,633.0 L626.0,632.0 L626.6,631.4 L627.4,614.1 L628.0,616.1 L628.7,617.2 L629.5,595.1 L630.1,594.7 L630.7,592.0 L631.4,562.0 L632.6,576.2 L633.9,568.3 L635.0,590.4 L635.8,591.8 L636.6,592.7 L637.4,591.7 L638.1,588.8 L639.7,574.6 L640.5,571.1 L641.3,569.9 L642.9,579.3 L644.0,587.2 L645.2,592.0 L646.8,574.6 L647.6,572.6 L648.4,571.5 L650.0,590.4 L651.5,584.1 L652.3,583.9 L653.1,580.9 L653.8,578.3 L654.4,577.5 L655.0,576.2 L655.7,573.9 L656.4,572.9 L657.1,573.0 L657.9,573.0 L658.6,570.7 L660.2,582.5 L661.8,588.8 L663.4,580.9 L664.2,584.6 L665.0,585.6 L666.5,598.3 L668.1,592.0 L669.7,582.5 L671.3,595.1 L672.8,585.6 L674.4,599.8 L676.0,587.2 L676.8,590.0 L677.6,592.0 L679.6,582.5 L681.2,595.1 L683.1,577.8 L685.0,584.1 L687.0,574.6 L687.8,572.0 L688.6,571.5 L690.2,563.6 L692.2,582.5 L693.8,569.9 L695.7,563.6 L697.3,573.0 L698.9,550.9 L700.1,541.5 L701.7,560.4 L703.6,569.9 L705.2,563.6 L707.1,576.2 L708.6,560.4 L710.2,550.9 L711.0,551.2 L711.8,552.5 L713.4,538.3 L714.6,532.0 L715.4,528.9 L716.2,527.3 L717.0,527.0 L717.8,525.7 L719.1,538.3 L719.7,539.9 L720.3,540.3 L720.9,541.5 L721.7,539.6 L722.5,537.5 L724.1,549.4 L725.7,539.9 L727.3,550.9 L729.1,539.9 L730.7,532.0 L731.5,529.0 L732.3,528.1 L733.0,529.0 L733.7,530.9 L734.4,530.4 L735.0,530.6 L735.7,528.3 L736.4,528.9 L738.0,538.3 L739.6,554.1 L741.1,559.6 L742.7,550.9 L743.8,533.6 L745.4,552.5 L747.0,525.7 L748.5,533.6 L749.3,536.0 L750.1,538.3 L750.9,537.4 L751.7,535.2 L753.3,552.5 L754.9,533.6 L755.6,532.1 L756.4,532.0 L758.0,517.8 L759.6,502.1 L761.2,511.5 L762.7,528.9 L764.3,511.5 L765.4,536.8 L766.7,497.3 L768.3,487.9 L769.8,497.3 L771.1,509.9 L773.0,495.7 L774.3,519.4 L775.4,535.2 L776.9,527.3 L778.5,543.1 L780.1,527.3 L780.9,526.0 L781.7,522.6 L783.2,539.9 L784.8,552.5 L786.9,523.3 L788.5,538.3 L790.3,558.8 L791.1,556.4 L791.9,554.1 L792.7,552.3 L793.5,549.4 L794.3,547.5 L795.1,547.6 L795.9,544.6 L797.4,558.8 L799.0,543.1 L800.6,562.0 L802.2,554.1 L804.2,566.7 L806.1,547.8 L807.7,532.0 L808.5,533.6 L809.3,533.6 L810.1,536.2 L810.9,538.3 L812.1,532.0 L813.7,547.8 L815.6,560.4 L816.4,557.8 L817.2,557.3 L818.6,568.3 L819.4,565.8 L820.2,563.6 L821.8,574.6 L824.0,554.9 L825.2,566.7 L826.8,573.0 L827.6,569.3 L828.4,568.3 L830.0,576.2 L831.5,585.6 L832.3,583.5 L833.1,580.9 L834.7,592.0 L836.6,603.0 L838.2,595.1 L839.7,588.8 L841.8,607.7 L843.4,598.3 L845.4,590.4 L847.3,598.3 L849.2,604.6 L850.8,596.7 L852.4,606.2 L854.4,593.5 L856.0,606.2 L856.7,608.9 L857.4,609.1 L858.0,611.7 L858.7,609.9 L859.3,607.9 L859.9,606.2 L861.8,595.1 L862.5,593.3 L863.2,592.5 L863.9,590.4 L864.7,592.2 L865.5,592.0 L867.5,606.2 L869.4,596.7 L870.2,576.2 L871.0,575.1 L871.8,573.0 L872.6,575.3 L873.3,577.8 L874.0,579.4 L874.7,578.4 L875.4,579.3 L876.0,581.5 L876.7,582.9 L877.3,584.1 L878.9,595.1 L880.8,588.8 L881.4,591.0 L882.1,592.8 L882.8,593.5 L883.6,591.3 L884.4,590.7 L885.2,588.8 L886.0,589.6 L886.8,591.3 L887.5,592.0 L889.4,584.1 L891.2,604.6 L891.8,604.1 L892.4,601.7 L893.1,599.8 L895.4,610.1 L897.8,599.8 L899.7,609.3 L900.4,606.8 L901.1,606.6 L901.7,605.4 L903.3,610.9 L904.4,592.0 L905.2,591.7 L906.0,590.4 L907.6,598.3 L909.6,584.1 L910.4,586.6 L911.2,587.2 L912.8,576.2 L913.6,575.0 L914.4,573.0 L915.9,548.6 L917.5,569.9 L919.1,582.5 L919.9,581.7 L920.7,579.3 L922.2,588.8 L922.9,586.1 L923.6,586.7 L924.3,584.1 L925.9,598.3 L927.4,585.6 L929.0,576.2 L930.6,588.8 L932.2,575.4 L933.8,592.0 L935.3,580.9 L936.1,579.9 L936.9,577.8 L938.5,570.7 L940.4,582.5 L942.0,574.6 L943.8,585.6 L945.4,598.3 L947.0,563.6 L948.6,544.6 L950.2,558.8 L951.7,543.1 L953.8,517.8 L955.4,533.6 L956.5,530.4 L958.0,550.9 L959.3,558.8 L960.9,573.0 L962.5,554.1 L964.0,563.6 L965.6,538.3 L966.9,531.2 L968.5,544.6 L970.0,577.8 L971.6,563.6 L972.2,565.4 L972.9,567.7 L973.5,568.3 L975.1,560.4 L976.5,555.0 L977.2,480.0 L977.5,350.0 L978.6,160.0 L979.6,160.0 L980.5,350.0 L981.2,450.0 L982.6,520.0 L983.8,552.0 L984.7,556.7 L985.5,559.5 L986.3,560.2 L987.1,563.0 L988.7,569.3 L989.5,572.3 L990.3,574.1 L990.9,575.6 L991.6,575.6 L992.3,577.2 L994.2,570.9 L995.8,580.4 L996.6,582.4 L997.4,583.7 L998.1,585.1 L998.8,586.1 L999.5,588.8 L1000.2,589.8 L1000.8,590.2 L1001.5,592.1 L1002.1,593.0 L1002.9,594.5 L1003.7,595.7 L1004.4,597.7 L1005.2,599.8 L1006.0,601.7 L1006.8,599.5 L1007.6,596.9 L1008.4,595.4 L1009.2,595.7 L1010.0,593.5 L1010.8,593.8 L1011.5,594.9 L1012.3,597.7 L1013.1,598.5 L1013.9,599.9 L1014.7,600.1 L1015.5,601.2 L1016.3,602.1 L1017.1,602.5 L1017.9,602.2 L1018.6,602.2 L1019.4,601.7 L1020.2,602.4 L1021.0,603.4 L1021.8,604.8 L1022.6,605.6 L1023.4,605.6 L1024.2,607.2 L1025.0,605.6 L1025.7,605.6 L1027.0,577.2 L1028.1,574.1 L1029.7,580.4 L1030.5,580.6 L1031.3,579.3 L1032.1,579.6 L1033.6,585.1 L1034.4,586.3 L1035.2,587.2 L1036.0,587.5 L1036.8,586.5 L1037.6,586.2 L1038.4,585.1 L1039.0,587.2 L1039.6,588.9 L1040.3,589.8 L1040.9,589.7 L1041.6,590.3 L1042.3,591.4 L1043.4,581.2 L1045.5,587.5 L1046.2,587.5 L1047.0,587.9 L1047.8,588.3 L1048.6,588.9 L1049.4,589.5 L1050.2,591.4 L1051.0,591.3 L1051.8,591.7 L1052.6,590.6 L1053.2,592.0 L1053.8,593.9 L1054.4,595.4 L1055.1,596.3 L1055.7,597.7 L1057.3,589.8 L1058.1,588.7 L1058.9,588.4 L1059.7,586.7 L1061.2,578.8 L1063.6,570.9 L1066.0,560.7 L1066.8,561.6 L1067.5,563.6 L1068.3,564.6 L1069.1,563.8 L1069.9,563.1 L1070.7,562.2 L1071.5,562.7 L1072.3,561.0 L1073.1,561.5 L1073.8,563.6 L1074.6,564.3 L1075.4,566.2 L1077.0,553.6 L1078.6,544.1 L1080.2,533.1 L1080.9,532.9 L1081.7,532.7 L1082.5,531.5 L1083.3,533.4 L1084.1,534.6 L1086.0,525.2 L1087.6,517.3 L1088.8,513.3 L1090.4,522.0 L1091.0,520.7 L1091.7,520.7 L1092.3,518.9 L1093.6,499.9 L1094.8,473.1 L1096.4,487.3 L1097.2,486.3 L1098.0,487.3 L1099.6,503.1 L1100.7,520.4 L1102.7,514.1 L1104.3,506.2 L1104.9,506.6 L1105.6,506.0 L1106.2,506.2 L1107.8,493.6 L1109.3,485.7 L1110.9,479.4 L1112.8,487.3 L1113.5,487.4 L1114.2,488.2 L1114.9,487.3 L1116.0,499.9 L1117.5,512.6 L1119.1,525.2 L1121.2,518.9 L1122.7,525.2 L1123.5,527.5 L1124.3,528.3 L1125.1,531.0 L1125.9,533.1 L1127.5,540.9 L1129.1,534.6 L1130.6,525.2 L1131.4,523.1 L1132.2,522.0 L1133.0,487.3 L1133.8,469.2 L1135.4,487.3 L1136.5,501.5 L1137.7,514.1 L1139.3,523.6 L1139.9,521.4 L1140.6,520.3 L1141.2,518.9 L1141.8,519.8 L1142.5,522.0 L1144.0,515.7 L1145.6,525.2 L1147.2,534.6 L1149.1,523.6 L1150.3,540.9 L1151.1,539.9 L1151.9,541.0 L1152.7,539.4 L1153.5,537.9 L1154.3,539.1 L1155.1,537.8 L1155.9,539.1 L1156.7,540.9 L1157.4,539.4 L1158.2,538.6 L1159.0,536.2 L1159.8,534.6 L1162.2,525.2 L1164.2,517.3 L1164.9,516.8 L1165.5,518.2 L1166.1,518.9 L1166.9,518.6 L1167.7,519.8 L1168.5,520.4 L1169.3,522.3 L1170.1,525.2 L1170.9,525.3 L1171.6,523.6 L1173.2,516.5 L1174.8,523.6 L1175.7,530.7 L1177.2,540.8 L1178.5,535.7 L1179.7,530.7 L1181.0,538.2 L1182.6,545.8 L1184.3,550.9 L1185.0,552.5 L1185.8,552.1 L1187.1,560.9 L1188.3,553.4 L1189.0,553.0 L1189.6,553.3 L1190.2,552.7 L1191.0,554.1 L1191.9,553.4 L1193.4,547.1 L1194.0,548.5 L1194.6,550.9 L1195.3,549.9 L1195.9,550.2 L1196.5,550.9"/>
</g>
<rect x="37.77" y="136.4" width="1213.2" height="534.6" fill="none" stroke="#141414" stroke-width="1.65"/>
<text x="644.4" y="738.0" font-size="21.6" text-anchor="middle">US money market</text>
<g stroke="#141414" stroke-width="1.65" fill="none">
<line x1="92.3" y1="1284.05" x2="92.3" y2="1290.35"/>
<line x1="289.8" y1="1284.05" x2="289.8" y2="1290.35"/>
<line x1="487.2" y1="1284.05" x2="487.2" y2="1290.35"/>
<line x1="684.7" y1="1284.05" x2="684.7" y2="1290.35"/>
<line x1="882.2" y1="1284.05" x2="882.2" y2="1290.35"/>
<line x1="1079.7" y1="1284.05" x2="1079.7" y2="1290.35"/>
<line x1="30.77" y1="1264.5" x2="37.77" y2="1264.5"/>
<line x1="30.77" y1="1180.5" x2="37.77" y2="1180.5"/>
<line x1="30.77" y1="1095.4" x2="37.77" y2="1095.4"/>
<line x1="30.77" y1="1010.3" x2="37.77" y2="1010.3"/>
<line x1="30.77" y1="925.2" x2="37.77" y2="925.2"/>
<line x1="30.77" y1="840.1" x2="37.77" y2="840.1"/>
<line x1="30.77" y1="755.0" x2="37.77" y2="755.0"/>
</g>
<text x="92.3" y="1310.2" font-size="18.0" text-anchor="middle">2003-01-01</text>
<text x="289.8" y="1310.2" font-size="18.0" text-anchor="middle">2006-11-01</text>
<text x="487.2" y="1310.2" font-size="18.0" text-anchor="middle">2010-09-01</text>
<text x="684.7" y="1310.2" font-size="18.0" text-anchor="middle">2014-07-02</text>
<text x="882.2" y="1310.2" font-size="18.0" text-anchor="middle">2018-05-02</text>
<text x="1079.7" y="1310.2" font-size="18.0" text-anchor="middle">2022-03-02</text>
<text x="24.6" y="1271.0" font-size="18.0" text-anchor="end">−2</text>
<text x="24.6" y="1187.0" font-size="18.0" text-anchor="end">0</text>
<text x="24.6" y="1101.9" font-size="18.0" text-anchor="end">2</text>
<text x="24.6" y="1016.8" font-size="18.0" text-anchor="end">4</text>
<text x="24.6" y="931.7" font-size="18.0" text-anchor="end">6</text>
<text x="24.6" y="846.6" font-size="18.0" text-anchor="end">8</text>
<text x="24.6" y="761.5" font-size="18.0" text-anchor="end">10</text>
<g fill="none" stroke-width="2.8" stroke-linejoin="round" stroke-linecap="butt">
<path stroke="#0018ee" d="M91.0,1194.4 L91.8,1194.9 L92.6,1196.0 L93.4,1196.7 L94.2,1196.8 L95.0,1197.4 L95.8,1197.5 L96.6,1197.9 L97.4,1197.6 L98.1,1198.3 L98.9,1197.2 L99.7,1197.6 L100.5,1196.7 L101.3,1196.7 L102.1,1197.0 L102.9,1197.5 L103.7,1196.9 L104.4,1195.1 L106.0,1201.5 L106.8,1199.4 L107.6,1197.5 L108.4,1198.1 L109.2,1198.0 L110.0,1198.3 L110.8,1196.9 L111.5,1194.8 L112.3,1193.6 L113.4,1184.9 L114.1,1185.0 L114.7,1185.3 L115.3,1184.9 L116.0,1184.9 L117.1,1193.6 L117.9,1194.9 L118.6,1195.9 L119.4,1196.7 L120.2,1196.5 L121.0,1197.5 L121.8,1197.5 L122.6,1197.1 L123.4,1196.2 L124.2,1195.9 L125.0,1195.9 L125.7,1197.4 L126.5,1197.5 L127.3,1197.5 L128.1,1197.7 L128.9,1197.5 L129.7,1197.1 L130.5,1196.2 L131.3,1195.1 L132.1,1195.3 L132.8,1194.5 L133.6,1194.4 L134.4,1194.2 L135.2,1193.2 L136.0,1192.8 L136.8,1194.0 L137.6,1194.8 L138.4,1195.1 L139.1,1194.4 L139.9,1194.2 L140.7,1194.4 L141.5,1192.9 L142.3,1192.0 L143.1,1194.5 L143.9,1195.9 L144.7,1196.9 L145.5,1198.2 L146.2,1199.1 L147.0,1199.4 L147.8,1200.1 L148.6,1200.7 L149.4,1201.1 L150.2,1201.5 L151.0,1202.2 L151.8,1202.6 L152.6,1202.9 L153.3,1203.0 L154.1,1202.9 L154.9,1202.2 L155.7,1201.5 L156.5,1201.7 L157.3,1201.3 L158.1,1200.7 L158.9,1200.7 L159.7,1199.8 L160.4,1199.1 L161.2,1198.5 L162.0,1199.0 L162.8,1198.3 L163.6,1198.5 L164.4,1198.2 L165.2,1197.5 L166.0,1197.8 L166.8,1198.3 L167.5,1198.3 L168.3,1198.2 L169.1,1199.2 L169.9,1199.1 L170.7,1199.7 L171.5,1199.9 L172.3,1200.7 L173.1,1199.4 L173.8,1199.5 L174.6,1198.3 L175.4,1199.9 L176.2,1199.9 L177.0,1201.5 L177.8,1202.8 L178.6,1203.5 L179.4,1204.6 L180.2,1202.9 L180.9,1201.8 L181.7,1200.7 L182.5,1199.9 L183.3,1199.0 L184.1,1197.5 L184.9,1196.0 L185.7,1195.5 L186.5,1194.4 L187.3,1194.4 L188.0,1195.6 L188.8,1195.9 L189.6,1193.8 L190.4,1192.0 L191.2,1190.8 L192.0,1188.8 L193.6,1195.1 L194.4,1196.2 L195.1,1196.2 L195.9,1196.7 L197.5,1190.4 L198.3,1192.0 L199.1,1192.3 L199.9,1193.6 L200.7,1193.6 L201.5,1194.7 L202.2,1195.1 L203.0,1193.6 L203.8,1192.7 L204.6,1192.0 L205.4,1192.7 L206.2,1193.7 L207.0,1194.4 L207.8,1193.4 L208.5,1192.8 L209.3,1192.8 L210.1,1192.0 L210.9,1190.4 L211.7,1192.0 L212.5,1194.6 L213.3,1195.9 L214.1,1196.6 L214.9,1196.3 L215.6,1196.7 L216.4,1196.1 L217.2,1195.7 L218.0,1195.1 L219.6,1186.5 L221.2,1193.6 L222.0,1195.7 L222.7,1197.5 L223.5,1198.9 L224.3,1200.2 L225.1,1201.5 L225.9,1202.6 L226.7,1204.0 L227.5,1204.6 L228.3,1203.0 L229.1,1201.4 L229.8,1199.9 L230.6,1198.8 L231.4,1197.0 L232.2,1195.9 L233.0,1194.7 L233.8,1194.4 L234.6,1192.8 L235.4,1192.3 L236.2,1191.8 L236.9,1191.2 L238.5,1196.7 L239.3,1195.1 L240.1,1194.5 L240.9,1193.6 L242.5,1187.3 L244.0,1180.9 L244.8,1182.2 L245.6,1183.3 L247.2,1193.6 L248.0,1194.4 L248.8,1196.3 L249.6,1197.5 L250.3,1198.4 L251.1,1198.6 L251.9,1199.9 L252.7,1201.6 L253.5,1203.0 L254.1,1203.8 L254.8,1204.8 L255.4,1205.4 L256.1,1203.4 L256.8,1201.9 L257.4,1199.9 L258.2,1199.3 L259.0,1197.8 L259.8,1197.5 L260.6,1198.2 L261.4,1199.9 L263.0,1193.6 L263.8,1194.5 L264.5,1195.7 L265.3,1195.9 L266.1,1195.1 L266.9,1194.8 L267.7,1194.4 L268.5,1194.1 L269.3,1193.6 L270.0,1186.2 L271.3,1176.7 L272.4,1186.2 L273.9,1194.1 L274.7,1195.4 L275.5,1197.1 L276.3,1198.8 L277.1,1199.1 L277.9,1199.7 L278.7,1200.4 L279.5,1200.0 L280.3,1199.1 L281.0,1198.8 L281.7,1197.1 L282.3,1195.9 L282.9,1194.1 L283.7,1192.4 L284.5,1191.7 L285.8,1198.8 L286.6,1200.7 L287.4,1202.7 L288.1,1204.3 L288.9,1203.8 L289.7,1203.5 L290.5,1203.5 L291.3,1203.3 L292.1,1202.2 L292.9,1202.0 L293.7,1201.1 L294.4,1200.8 L295.2,1200.4 L296.0,1198.2 L296.8,1195.6 L297.6,1197.6 L298.4,1200.4 L299.2,1201.8 L300.0,1203.4 L300.8,1205.1 L301.5,1204.4 L302.3,1202.9 L303.1,1202.0 L303.9,1203.1 L304.7,1203.2 L305.5,1204.3 L306.3,1203.4 L307.1,1202.9 L307.9,1202.0 L308.6,1202.1 L309.4,1201.4 L310.2,1201.2 L311.0,1200.6 L311.8,1200.2 L312.6,1200.4 L313.4,1198.8 L314.2,1196.9 L315.0,1195.6 L315.7,1195.5 L316.5,1195.0 L317.3,1194.1 L318.1,1192.9 L318.9,1192.2 L319.7,1191.7 L320.5,1190.1 L321.3,1187.8 L322.8,1179.1 L324.4,1189.3 L325.2,1191.9 L326.0,1194.1 L326.8,1192.8 L327.6,1190.9 L329.7,1160.2 L330.3,1090.0 L331.0,1013.3 L331.7,1040.0 L332.2,1063.3 L333.0,1090.0 L333.7,1066.7 L334.7,1106.7 L335.8,1118.3 L336.7,1120.7 L337.5,1123.3 L338.7,1136.7 L340.8,1148.3 L342.0,1131.7 L343.3,1106.7 L344.2,1073.3 L345.0,1056.7 L345.8,1028.3 L347.0,1046.7 L348.0,1073.3 L348.7,1106.7 L350.0,1131.7 L351.3,1146.7 L353.0,1123.3 L354.2,1120.0 L355.3,1138.3 L357.0,1131.7 L358.3,1098.3 L359.7,1070.0 L360.3,1060.0 L361.3,1090.0 L362.5,1108.3 L363.3,1105.4 L364.2,1103.3 L365.3,1090.0 L366.7,1116.7 L368.3,1126.7 L369.7,1130.8 L370.3,1128.7 L371.0,1127.3 L371.7,1125.0 L372.5,1122.2 L373.3,1120.0 L375.0,1110.0 L375.8,1111.5 L376.7,1113.3 L377.5,1114.1 L378.3,1115.0 L379.0,1114.5 L379.6,1114.1 L380.2,1114.2 L380.8,1113.3 L381.5,1113.4 L382.1,1113.6 L382.7,1115.1 L383.3,1115.0 L386.2,980.2 L386.7,943.3 L387.7,876.7 L388.3,860.0 L389.3,826.7 L389.5,790.0 L390.2,773.7 L390.8,773.7 L391.0,790.0 L391.2,826.7 L392.0,856.7 L393.0,866.7 L393.3,910.0 L394.2,951.7 L395.3,968.3 L395.8,970.0 L396.7,958.3 L398.0,981.7 L398.7,1006.7 L399.7,1040.0 L400.8,1035.0 L401.3,1073.3 L402.5,1105.0 L403.7,1106.7 L405.0,1059.2 L405.8,1090.0 L406.7,1106.7 L408.3,1098.3 L410.0,1105.0 L410.8,1104.6 L411.7,1103.3 L413.0,1111.7 L414.2,1120.0 L415.0,1123.0 L415.8,1125.0 L416.5,1126.4 L417.2,1128.4 L417.9,1129.4 L419.5,1138.9 L420.6,1154.6 L421.7,1167.3 L422.4,1168.8 L423.1,1169.1 L423.8,1170.4 L424.6,1171.5 L425.4,1172.4 L426.2,1172.8 L426.9,1174.3 L427.7,1175.4 L428.5,1176.7 L429.3,1177.5 L430.1,1178.6 L430.9,1179.9 L431.7,1181.7 L432.5,1183.6 L433.2,1186.2 L434.0,1187.9 L434.8,1189.1 L435.6,1190.9 L436.4,1192.6 L437.2,1193.0 L438.0,1194.9 L438.8,1194.8 L439.6,1194.0 L440.3,1193.3 L441.1,1193.5 L441.9,1193.2 L442.7,1192.5 L443.5,1191.9 L444.3,1190.5 L445.1,1189.3 L445.9,1189.3 L446.7,1190.7 L447.4,1190.9 L448.2,1191.6 L449.0,1192.8 L449.8,1194.1 L450.0,1194.6 L450.8,1194.8 L451.6,1194.7 L452.4,1194.6 L453.2,1194.8 L453.9,1195.6 L454.7,1195.4 L455.5,1196.6 L456.3,1197.4 L457.1,1198.6 L457.9,1199.1 L458.7,1200.6 L459.5,1200.9 L460.1,1201.7 L460.7,1202.8 L461.4,1203.3 L462.1,1203.9 L462.9,1204.9 L463.6,1203.5 L464.3,1202.8 L465.0,1201.7 L465.8,1201.8 L466.6,1200.8 L467.4,1200.9 L468.0,1200.2 L468.6,1199.3 L469.2,1197.8 L470.8,1188.3 L472.1,1180.4 L472.9,1179.7 L473.7,1178.7 L474.4,1177.3 L475.2,1177.0 L476.0,1178.0 L476.8,1178.1 L477.6,1177.7 L478.4,1176.0 L479.2,1175.7 L479.9,1176.2 L480.5,1177.0 L481.2,1178.1 L482.3,1183.6 L483.9,1189.9 L484.6,1191.0 L485.3,1191.9 L486.0,1193.1 L486.6,1193.6 L487.3,1194.5 L488.0,1194.3 L488.6,1195.4 L489.4,1195.2 L490.2,1195.5 L491.0,1196.2 L491.8,1195.0 L492.6,1194.2 L493.4,1193.8 L494.2,1195.4 L495.0,1196.3 L495.7,1197.0 L496.5,1197.3 L497.3,1198.6 L498.1,1199.4 L498.9,1199.2 L499.7,1199.4 L500.5,1196.8 L501.3,1194.6 L502.1,1193.4 L502.8,1192.7 L503.6,1191.5 L504.4,1192.9 L505.2,1194.0 L506.0,1195.4 L506.8,1194.8 L507.6,1194.7 L508.4,1194.6 L509.1,1193.7 L509.9,1193.6 L510.7,1193.1 L511.5,1192.8 L512.3,1191.9 L513.1,1191.5 L513.9,1191.3 L514.7,1191.7 L515.5,1192.3 L516.2,1191.3 L517.0,1190.8 L517.8,1189.9 L518.6,1190.7 L519.4,1190.8 L520.2,1191.5 L521.0,1192.3 L521.8,1192.7 L522.6,1193.1 L523.3,1194.0 L524.1,1195.0 L524.9,1196.2 L525.7,1196.7 L526.5,1197.5 L527.3,1197.8 L528.1,1198.1 L528.9,1198.6 L529.7,1198.0 L530.4,1197.0 L531.2,1196.2 L532.0,1194.4 L532.8,1193.1 L533.9,1187.5 L534.6,1187.1 L535.3,1186.7 L536.0,1186.0 L536.6,1184.7 L537.3,1184.3 L538.0,1183.6 L538.6,1183.0 L539.3,1183.0 L539.9,1182.0 L540.5,1180.9 L541.2,1178.9 L541.8,1179.0 L542.4,1179.8 L543.1,1179.7 L543.8,1179.2 L544.6,1178.1 L545.4,1177.0 L546.2,1176.5 L547.0,1175.7 L547.8,1174.5 L548.6,1174.5 L549.4,1173.3 L550.0,1172.5 L550.6,1171.7 L551.3,1170.2 L552.1,1168.1 L552.8,1165.5 L553.5,1165.9 L554.2,1166.2 L554.9,1166.2 L555.7,1164.5 L556.5,1162.1 L557.3,1160.7 L557.9,1162.1 L558.5,1162.8 L559.1,1164.7 L560.4,1169.4 L561.2,1171.4 L562.0,1174.1 L562.8,1173.9 L563.6,1172.6 L564.4,1172.6 L565.1,1172.9 L565.9,1173.7 L566.7,1174.9 L567.5,1175.6 L568.3,1175.1 L569.1,1175.7 L569.9,1176.2 L570.7,1178.2 L571.5,1178.9 L572.2,1179.0 L573.0,1180.3 L573.8,1180.4 L574.6,1181.2 L575.4,1181.9 L576.2,1182.0 L577.0,1182.8 L577.8,1182.6 L578.5,1182.8 L579.3,1182.9 L580.1,1181.8 L580.9,1182.0 L581.5,1181.3 L582.2,1179.9 L582.8,1178.9 L583.5,1179.9 L584.2,1180.0 L584.9,1181.2 L585.6,1181.5 L586.4,1181.7 L587.2,1181.2 L588.0,1181.0 L588.8,1181.6 L589.6,1182.0 L590.4,1182.1 L591.2,1182.4 L592.0,1182.0 L592.6,1182.8 L593.2,1183.8 L593.8,1185.2 L594.5,1184.4 L595.2,1184.2 L595.9,1183.6 L596.7,1184.9 L597.5,1185.6 L598.3,1186.8 L599.1,1187.1 L599.8,1187.7 L600.6,1188.3 L601.4,1188.7 L602.2,1189.3 L603.0,1189.9 L603.8,1189.7 L604.6,1190.4 L605.4,1190.7 L606.2,1191.5 L606.9,1191.1 L607.7,1191.5 L608.5,1192.8 L609.3,1193.2 L610.1,1194.6 L610.9,1195.6 L611.7,1196.5 L612.5,1197.0 L613.2,1197.5 L614.0,1197.5 L614.8,1197.8 L615.6,1198.8 L616.4,1200.1 L617.2,1200.9 L618.0,1201.9 L618.8,1201.6 L619.6,1202.5 L620.3,1201.6 L621.1,1201.7 L621.9,1200.9 L622.7,1201.1 L623.5,1200.4 L624.3,1200.2 L625.1,1199.8 L625.9,1199.9 L626.7,1199.4 L627.3,1198.9 L627.9,1198.8 L628.5,1198.6 L629.2,1198.8 L629.8,1198.6 L630.4,1198.4 L631.1,1198.3 L631.7,1198.8 L632.3,1199.1 L633.0,1198.6 L633.6,1198.0 L634.2,1198.2 L634.9,1197.5 L635.5,1197.7 L636.1,1197.0 L636.8,1197.3 L637.4,1197.1 L638.0,1197.2 L638.6,1197.1 L639.3,1197.8 L639.9,1197.8 L640.5,1197.7 L641.2,1197.4 L641.8,1197.6 L642.4,1197.8 L643.1,1197.8 L643.7,1198.4 L644.3,1197.9 L645.0,1199.0 L645.6,1198.6 L646.4,1196.6 L647.2,1194.6 L647.9,1197.0 L648.7,1199.1 L649.5,1199.8 L650.3,1201.0 L651.0,1201.4 L651.8,1201.0 L652.6,1199.9 L653.4,1199.1 L654.2,1198.5 L655.0,1198.2 L655.8,1197.5 L656.4,1198.9 L657.0,1199.5 L657.7,1200.6 L658.3,1200.6 L659.0,1200.6 L659.7,1199.8 L660.5,1199.5 L661.3,1199.0 L662.1,1199.1 L662.7,1198.6 L663.3,1199.0 L664.0,1198.8 L664.6,1198.9 L665.2,1198.3 L665.9,1199.0 L666.5,1198.6 L667.1,1198.9 L667.8,1199.3 L668.4,1199.8 L669.2,1199.8 L670.0,1200.6 L670.8,1200.6 L671.5,1200.8 L672.3,1200.5 L673.1,1199.8 L673.9,1199.8 L674.7,1200.8 L675.5,1200.6 L676.3,1200.7 L677.1,1201.1 L677.9,1201.4 L678.5,1201.9 L679.1,1201.5 L679.7,1201.7 L680.4,1202.8 L681.0,1202.7 L681.8,1202.5 L682.6,1202.5 L683.4,1202.7 L684.2,1202.3 L685.0,1202.0 L685.7,1201.4 L686.5,1200.4 L687.3,1200.2 L688.1,1199.8 L688.9,1199.5 L689.7,1199.3 L690.5,1199.1 L691.3,1198.5 L692.1,1198.6 L692.8,1198.3 L693.6,1199.2 L694.4,1199.0 L695.2,1199.5 L696.0,1199.4 L696.8,1198.8 L697.6,1199.1 L698.4,1198.5 L699.1,1198.7 L699.9,1198.3 L700.7,1198.1 L701.5,1199.2 L702.3,1199.1 L703.1,1199.5 L703.9,1198.6 L704.7,1199.1 L705.5,1197.6 L706.2,1195.1 L707.0,1192.6 L707.8,1190.4 L708.6,1189.1 L709.4,1187.2 L711.0,1193.5 L711.8,1195.8 L712.6,1197.5 L713.2,1197.8 L713.8,1198.7 L714.4,1199.1 L715.1,1199.0 L715.8,1198.9 L716.5,1198.3 L717.3,1197.0 L718.1,1196.4 L718.9,1195.1 L719.5,1194.3 L720.1,1192.7 L720.8,1191.2 L721.5,1189.6 L722.3,1188.0 L723.0,1189.4 L723.7,1191.7 L724.4,1193.5 L725.1,1194.9 L725.8,1196.9 L726.4,1198.3 L727.1,1198.5 L727.7,1198.3 L728.3,1198.3 L729.1,1197.1 L729.9,1196.8 L730.7,1195.9 L731.5,1194.7 L732.3,1192.9 L733.1,1192.0 L733.7,1190.8 L734.3,1189.0 L735.0,1187.2 L736.2,1195.1 L737.0,1194.4 L737.8,1195.1 L738.6,1194.3 L739.4,1192.9 L740.2,1192.0 L740.9,1191.2 L741.7,1190.6 L742.5,1189.7 L743.3,1188.8 L744.1,1189.1 L744.9,1189.5 L745.7,1189.6 L746.5,1188.0 L747.3,1186.2 L748.0,1184.9 L748.8,1186.9 L749.6,1189.6 L750.4,1188.9 L751.2,1189.3 L752.0,1188.8 L752.6,1190.7 L753.2,1192.0 L753.9,1193.5 L754.5,1195.0 L755.1,1195.7 L755.8,1196.8 L756.4,1198.3 L757.5,1187.2 L759.1,1169.9 L761.1,1161.2 L762.7,1174.6 L763.3,1175.0 L764.0,1176.1 L764.6,1176.2 L765.4,1175.7 L766.2,1176.2 L767.0,1176.2 L767.8,1176.7 L768.5,1178.1 L769.3,1178.5 L770.1,1178.1 L770.9,1177.8 L771.7,1177.8 L772.5,1176.9 L773.3,1176.2 L774.1,1175.4 L774.9,1176.2 L775.6,1176.3 L776.4,1177.0 L777.2,1177.6 L778.0,1177.1 L778.8,1177.8 L779.4,1179.1 L780.1,1180.5 L780.7,1182.5 L781.4,1183.9 L782.1,1186.5 L782.7,1188.0 L784.3,1176.2 L785.1,1174.1 L785.9,1171.5 L787.0,1166.7 L788.3,1174.6 L789.1,1174.3 L789.8,1174.6 L791.4,1163.6 L792.2,1161.3 L793.0,1159.6 L793.8,1159.3 L794.6,1159.4 L795.4,1158.8 L796.2,1157.6 L796.9,1155.7 L798.5,1144.6 L800.1,1139.1 L801.2,1144.6 L802.5,1152.5 L803.2,1155.2 L804.0,1157.3 L805.6,1166.7 L806.4,1169.2 L807.2,1171.5 L808.0,1173.4 L808.8,1176.2 L810.3,1163.6 L811.1,1161.5 L811.9,1159.6 L812.7,1160.6 L813.5,1162.3 L814.3,1163.6 L815.9,1169.9 L816.7,1170.5 L817.4,1170.6 L818.2,1171.5 L819.0,1172.8 L819.8,1174.9 L820.6,1176.2 L821.4,1177.2 L822.2,1179.7 L823.0,1180.9 L823.8,1181.3 L824.5,1180.9 L826.1,1187.2 L826.9,1188.5 L827.7,1188.7 L828.5,1189.6 L829.3,1190.7 L830.1,1191.8 L830.9,1192.7 L831.6,1194.2 L832.4,1195.9 L833.2,1196.7 L834.8,1206.2 L835.9,1209.3 L837.2,1195.1 L838.1,1189.1 L839.7,1199.3 L840.5,1198.2 L841.3,1196.5 L842.1,1195.4 L842.9,1195.8 L843.7,1195.3 L844.4,1195.4 L845.2,1195.2 L846.0,1195.1 L846.8,1194.6 L847.6,1193.2 L848.4,1193.3 L849.2,1192.2 L849.9,1192.1 L850.5,1191.7 L851.2,1191.4 L851.9,1193.0 L852.5,1194.5 L853.1,1196.2 L853.9,1196.6 L854.7,1197.8 L855.5,1198.5 L856.3,1198.8 L857.1,1200.1 L857.9,1200.9 L858.6,1202.1 L859.4,1202.9 L860.2,1204.0 L861.8,1191.4 L862.6,1166.2 L864.2,1153.6 L865.4,1174.1 L866.1,1176.0 L866.7,1178.3 L867.3,1179.6 L867.9,1180.0 L868.6,1179.2 L869.2,1179.6 L870.0,1180.7 L870.8,1181.2 L872.1,1161.5 L873.6,1148.8 L875.2,1134.6 L876.5,1122.0 L877.6,1121.2 L879.1,1134.6 L880.7,1140.9 L881.4,1142.1 L882.1,1142.6 L882.8,1144.1 L884.4,1158.3 L885.1,1160.5 L885.9,1163.0 L886.6,1161.7 L887.2,1160.5 L887.8,1159.9 L888.6,1158.9 L889.4,1158.2 L890.2,1156.7 L891.8,1166.2 L892.6,1167.6 L893.3,1169.7 L894.1,1170.9 L894.9,1172.2 L895.7,1172.6 L896.5,1174.1 L897.2,1176.0 L897.9,1177.3 L898.5,1178.8 L900.1,1187.5 L900.8,1189.5 L901.4,1190.9 L902.0,1192.2 L902.8,1191.2 L903.6,1189.4 L904.4,1188.3 L906.4,1179.6 L908.3,1170.9 L909.9,1164.6 L910.7,1163.4 L911.5,1161.5 L913.1,1147.3 L913.8,1146.2 L914.6,1144.1 L915.3,1146.1 L915.9,1147.2 L916.5,1148.8 L918.1,1159.9 L920.2,1168.5 L922.2,1175.6 L923.8,1181.2 L924.4,1182.0 L925.0,1182.2 L925.7,1182.7 L927.3,1173.3 L928.5,1159.9 L929.6,1182.0 L931.7,1189.1 L932.3,1188.1 L932.9,1187.5 L933.6,1187.5 L934.4,1186.0 L935.1,1185.0 L935.9,1184.3 L936.7,1183.9 L937.5,1184.3 L938.3,1184.3 L938.9,1183.0 L939.6,1181.2 L940.2,1179.6 L941.0,1178.7 L941.8,1178.0 L942.6,1179.0 L943.3,1179.6 L944.6,1169.3 L945.7,1160.7 L947.0,1178.0 L949.0,1184.3 L950.6,1172.5 L952.2,1148.8 L953.8,1141.7 L955.3,1158.3 L956.9,1152.0 L958.8,1143.3 L960.1,1161.5 L961.6,1167.8 L962.3,1166.5 L962.9,1165.6 L963.5,1164.6 L964.3,1162.5 L965.1,1159.9 L966.4,1151.2 L967.2,1151.1 L967.9,1151.2 L969.1,1174.1 L970.2,1184.3 L971.7,1193.0 L972.4,1194.2 L973.1,1196.6 L973.8,1197.7 L974.6,1198.8 L975.4,1199.3 L976.2,1182.0 L977.0,1134.0 L977.5,1087.0 L978.0,1040.0 L979.4,912.0 L980.2,912.0 L982.0,1040.0 L982.6,1071.0 L983.4,1094.0 L984.6,1111.0 L985.6,1134.0 L986.5,1165.0 L986.9,1164.6 L988.5,1175.6 L990.3,1185.1 L991.0,1185.8 L991.6,1186.5 L992.2,1187.5 L993.0,1185.1 L993.8,1182.7 L994.5,1184.4 L995.2,1185.6 L995.9,1187.5 L996.6,1188.2 L997.2,1189.8 L997.9,1191.4 L998.7,1192.3 L999.4,1192.1 L1000.1,1193.0 L1000.8,1193.4 L1001.4,1193.6 L1002.0,1194.1 L1002.6,1194.9 L1003.4,1195.2 L1004.1,1196.2 L1004.9,1196.9 L1005.5,1197.2 L1006.1,1197.8 L1006.8,1198.5 L1007.4,1199.6 L1008.0,1199.4 L1008.6,1199.9 L1009.3,1200.1 L1010.1,1198.9 L1010.9,1198.2 L1011.6,1198.0 L1012.4,1197.4 L1013.2,1196.7 L1014.0,1196.2 L1014.6,1196.1 L1015.3,1195.0 L1015.9,1195.1 L1016.5,1194.8 L1017.2,1194.6 L1017.8,1194.7 L1018.4,1196.4 L1019.0,1196.3 L1019.6,1196.9 L1020.3,1198.0 L1021.0,1198.7 L1021.8,1199.2 L1022.6,1200.3 L1023.4,1201.0 L1024.2,1201.2 L1025.0,1201.9 L1025.8,1202.0 L1026.6,1202.5 L1027.4,1203.5 L1028.1,1203.0 L1028.9,1201.7 L1029.7,1201.1 L1030.5,1200.7 L1031.3,1199.5 L1032.1,1198.8 L1032.9,1200.6 L1033.7,1201.2 L1034.4,1202.7 L1036.0,1188.0 L1036.8,1187.8 L1037.6,1188.0 L1038.4,1202.7 L1039.2,1203.8 L1040.0,1205.7 L1040.8,1206.7 L1041.5,1207.1 L1042.3,1207.0 L1043.1,1207.4 L1043.9,1206.5 L1044.7,1206.6 L1045.5,1205.9 L1046.3,1206.6 L1047.1,1206.5 L1047.9,1206.7 L1048.6,1206.4 L1049.4,1206.7 L1050.2,1207.4 L1051.0,1207.0 L1051.8,1207.1 L1052.6,1207.4 L1053.4,1206.9 L1054.2,1207.0 L1055.0,1207.4 L1055.7,1207.4 L1056.5,1207.4 L1057.3,1206.7 L1058.1,1206.1 L1058.9,1206.7 L1059.7,1205.9 L1060.5,1205.3 L1061.3,1205.1 L1062.1,1204.3 L1062.8,1204.0 L1063.6,1203.2 L1064.4,1201.9 L1065.1,1200.4 L1065.8,1199.6 L1066.5,1198.8 L1067.1,1198.4 L1067.7,1198.2 L1068.4,1197.2 L1069.0,1198.3 L1069.6,1200.1 L1070.3,1201.9 L1070.9,1202.8 L1071.6,1202.6 L1072.3,1203.5 L1073.1,1203.4 L1073.9,1203.3 L1074.7,1203.5 L1075.5,1203.4 L1076.2,1203.4 L1077.0,1202.7 L1077.8,1200.0 L1078.6,1198.0 L1080.2,1175.9 L1081.8,1155.7 L1083.3,1175.9 L1084.4,1188.5 L1086.5,1198.0 L1088.1,1191.7 L1088.9,1189.6 L1089.7,1186.9 L1091.2,1198.0 L1092.0,1200.6 L1092.8,1202.7 L1094.4,1191.7 L1095.5,1177.8 L1096.8,1188.5 L1098.0,1201.1 L1099.6,1190.1 L1100.4,1188.9 L1101.2,1186.9 L1102.0,1189.4 L1102.7,1191.7 L1104.3,1204.3 L1105.9,1218.5 L1107.0,1227.5 L1108.1,1204.3 L1109.1,1188.5 L1110.6,1198.0 L1112.2,1188.5 L1113.3,1166.0 L1114.9,1172.7 L1116.5,1179.1 L1117.3,1178.7 L1118.0,1177.5 L1119.6,1191.7 L1120.4,1190.7 L1121.2,1190.1 L1122.8,1201.1 L1124.4,1207.4 L1125.1,1209.5 L1125.9,1211.7 L1127.5,1202.7 L1128.3,1204.0 L1129.1,1205.9 L1130.7,1213.3 L1131.5,1212.2 L1132.2,1210.6 L1133.3,1175.4 L1134.6,1182.2 L1135.4,1183.0 L1136.2,1183.8 L1137.4,1207.0 L1139.0,1201.1 L1140.6,1191.7 L1141.2,1192.5 L1141.9,1193.4 L1142.5,1194.8 L1144.4,1186.9 L1145.1,1188.2 L1145.8,1189.2 L1146.4,1190.1 L1147.2,1192.7 L1148.0,1194.8 L1148.8,1197.1 L1149.6,1199.6 L1151.2,1191.7 L1152.0,1190.9 L1152.7,1190.1 L1154.3,1198.0 L1155.1,1199.2 L1155.9,1201.1 L1156.7,1199.8 L1157.5,1197.5 L1158.3,1196.4 L1159.1,1195.6 L1159.8,1195.1 L1160.6,1194.0 L1161.4,1194.0 L1162.2,1193.1 L1163.0,1193.2 L1163.8,1191.1 L1164.6,1189.9 L1165.4,1187.7 L1166.2,1188.4 L1166.9,1189.2 L1167.7,1189.3 L1168.5,1189.7 L1169.3,1189.3 L1170.1,1189.3 L1170.9,1189.0 L1171.7,1188.0 L1172.5,1186.9 L1173.1,1185.2 L1173.7,1183.8 L1175.3,1191.7 L1175.9,1193.1 L1176.6,1194.4 L1177.2,1196.4 L1178.0,1197.6 L1178.8,1199.5 L1179.6,1200.3 L1180.2,1200.4 L1180.9,1201.5 L1181.6,1201.9 L1182.2,1200.7 L1182.9,1199.9 L1183.5,1199.6 L1184.3,1199.2 L1185.1,1198.2 L1185.9,1198.0 L1186.7,1197.0 L1187.4,1196.5 L1188.2,1196.4 L1189.0,1196.0 L1189.8,1195.4 L1190.6,1194.8 L1191.4,1194.8 L1192.2,1195.6 L1193.0,1196.4 L1193.6,1197.7 L1194.2,1197.7 L1194.9,1198.8 L1195.6,1198.4 L1196.4,1198.0"/>
<path stroke="#e83020" d="M91.0,1121.0 L91.8,1122.0 L92.6,1124.2 L93.4,1136.8 L94.2,1137.1 L95.0,1139.2 L95.8,1140.7 L96.4,1139.1 L97.0,1138.1 L97.7,1138.4 L98.3,1138.6 L99.0,1140.4 L99.7,1139.9 L100.8,1130.5 L102.1,1146.2 L103.3,1127.3 L104.4,1122.6 L105.6,1146.2 L106.5,1157.3 L107.6,1143.1 L108.4,1128.9 L109.7,1165.2 L110.8,1149.4 L111.9,1139.9 L113.1,1111.5 L114.4,1096.6 L115.5,1105.2 L116.6,1121.0 L117.5,1147.8 L118.3,1149.7 L119.1,1150.2 L119.7,1149.0 L120.4,1145.8 L121.0,1144.7 L121.6,1146.3 L122.3,1147.3 L122.9,1149.4 L123.6,1147.3 L124.3,1145.8 L125.0,1145.5 L125.6,1146.1 L126.3,1149.1 L127.0,1149.4 L127.6,1151.2 L128.3,1152.2 L128.9,1152.6 L130.5,1143.1 L131.3,1146.2 L132.1,1147.8 L134.4,1139.9 L136.0,1132.1 L137.6,1138.4 L138.4,1136.0 L139.1,1135.2 L139.9,1136.3 L140.7,1138.4 L142.3,1127.3 L143.4,1139.9 L144.4,1155.7 L145.5,1169.1 L146.2,1169.9 L147.0,1170.7 L147.8,1170.7 L148.6,1170.8 L149.4,1170.0 L150.2,1168.3 L151.0,1166.9 L151.8,1167.5 L152.6,1170.2 L153.3,1172.3 L154.9,1166.8 L155.7,1167.4 L156.5,1167.3 L157.3,1167.5 L158.1,1167.6 L158.9,1169.1 L159.7,1169.9 L161.2,1177.8 L162.3,1187.3 L163.6,1195.1 L164.9,1210.9 L166.0,1177.8 L166.8,1162.8 L168.0,1188.8 L169.1,1206.2 L170.2,1177.8 L171.5,1196.7 L173.1,1184.1 L174.3,1176.2 L175.4,1196.7 L177.0,1187.3 L177.8,1184.7 L178.6,1184.1 L180.2,1206.2 L181.7,1199.9 L183.3,1190.4 L185.4,1182.5 L186.2,1182.0 L186.9,1179.4 L188.0,1169.9 L189.6,1180.9 L191.2,1168.3 L192.3,1158.9 L192.9,1158.6 L193.6,1156.5 L194.8,1174.6 L195.5,1206.2 L196.7,1214.1 L198.3,1199.9 L199.6,1184.1 L200.7,1206.2 L202.2,1193.6 L203.8,1212.5 L205.4,1190.4 L206.5,1199.9 L207.8,1222.0 L208.5,1253.5 L209.7,1256.7 L210.9,1222.0 L212.2,1203.0 L213.0,1205.5 L213.8,1207.8 L215.6,1218.8 L217.2,1231.4 L218.8,1250.3 L220.4,1222.0 L222.0,1239.3 L222.6,1238.3 L223.2,1239.2 L223.8,1237.7 L225.9,1231.4 L227.5,1215.6 L229.1,1209.3 L230.6,1222.0 L232.2,1237.7 L233.8,1246.4 L235.4,1234.6 L236.9,1222.0 L238.5,1203.0 L239.6,1215.6 L240.3,1217.4 L241.0,1219.7 L241.7,1220.4 L243.2,1209.3 L244.0,1208.6 L244.8,1206.2 L246.4,1234.6 L248.0,1222.0 L249.6,1231.4 L251.1,1217.2 L251.9,1215.7 L252.7,1214.1 L254.3,1222.0 L255.9,1237.7 L256.7,1238.3 L257.4,1239.3 L259.0,1220.4 L260.6,1236.2 L261.4,1238.8 L262.2,1240.9 L263.8,1231.4 L265.3,1225.1 L266.9,1231.4 L267.7,1222.0 L269.0,1245.6 L270.5,1257.2 L271.1,1257.2 L271.7,1217.7 L272.6,1218.2 L273.5,1219.0 L274.3,1216.8 L275.0,1216.2 L275.7,1208.3 L276.5,1201.3 L277.2,1200.5 L277.9,1201.4 L278.7,1200.4 L279.5,1200.1 L280.3,1202.0 L281.4,1216.2 L282.1,1215.5 L282.9,1216.9 L284.5,1202.0 L285.8,1197.2 L286.4,1195.9 L287.0,1193.5 L287.7,1192.5 L288.3,1192.0 L289.0,1191.4 L289.7,1190.9 L290.5,1188.2 L291.3,1186.2 L292.9,1178.3 L293.7,1178.7 L294.4,1176.7 L295.6,1192.5 L296.8,1173.6 L298.1,1190.9 L300.0,1197.2 L300.8,1194.9 L301.5,1194.1 L303.1,1183.0 L303.9,1185.2 L304.7,1187.8 L305.3,1188.6 L306.0,1191.2 L306.6,1192.5 L307.4,1191.2 L308.2,1190.9 L309.7,1197.2 L310.5,1195.3 L311.3,1194.1 L312.9,1200.4 L313.8,1211.4 L314.5,1213.6 L315.1,1214.1 L315.7,1216.2 L316.5,1217.1 L317.3,1217.7 L317.9,1218.2 L318.6,1215.7 L319.2,1216.2 L320.0,1217.5 L320.8,1220.9 L321.6,1221.0 L322.4,1222.5 L323.6,1209.8 L324.4,1208.1 L325.2,1205.1 L325.8,1203.8 L326.5,1202.0 L328.7,1140.0 L329.3,1090.0 L329.7,960.0 L330.0,893.3 L330.7,823.3 L331.7,823.3 L332.3,903.3 L333.3,906.7 L334.2,930.0 L334.7,976.7 L335.0,990.0 L335.3,1006.7 L336.3,1031.7 L337.5,1040.0 L338.7,1056.7 L339.7,1048.3 L340.3,1076.7 L341.3,1111.7 L342.5,1073.3 L343.3,1040.0 L344.2,1006.7 L345.3,969.2 L346.7,990.0 L348.0,1000.0 L349.2,1004.2 L349.7,1023.3 L350.3,1056.7 L351.3,1090.0 L352.5,1081.7 L353.7,1106.7 L354.7,1120.0 L355.3,1093.3 L356.7,1086.7 L358.0,1056.7 L359.2,1048.3 L360.8,1028.3 L362.0,1048.3 L363.0,1073.3 L363.7,1098.3 L365.0,1073.3 L365.7,1072.2 L366.3,1071.7 L367.5,1098.3 L368.7,1116.7 L369.5,1118.6 L370.3,1120.8 L372.0,1113.3 L373.3,1103.3 L374.2,1100.5 L375.0,1098.3 L376.7,1106.7 L377.5,1109.1 L378.3,1111.7 L379.2,1110.3 L380.0,1110.0 L380.7,1111.9 L381.3,1113.8 L382.0,1115.0 L383.3,1110.0 L384.7,1125.0 L385.8,1090.0 L386.7,1040.0 L387.5,990.0 L387.8,960.0 L388.3,946.7 L389.2,945.0 L390.3,933.3 L391.3,951.7 L392.0,980.2 L391.7,973.3 L392.5,1006.7 L393.3,1040.0 L394.2,1060.0 L395.3,1080.0 L396.3,1066.7 L397.5,1081.7 L398.7,1103.3 L400.0,1120.0 L401.3,1140.0 L403.0,1151.7 L405.0,1126.7 L405.8,1145.0 L406.7,1148.0 L407.5,1150.0 L408.3,1147.8 L409.2,1145.0 L410.0,1148.0 L410.8,1150.0 L411.5,1151.1 L412.1,1153.1 L412.7,1155.5 L413.3,1156.7 L414.0,1157.7 L414.7,1158.0 L415.3,1159.3 L416.0,1159.6 L416.7,1160.2 L418.3,1167.3 L419.8,1179.9 L420.6,1182.3 L421.4,1183.9 L422.2,1186.2 L423.0,1185.6 L423.8,1185.6 L424.6,1185.4 L425.4,1185.3 L426.2,1185.8 L426.9,1186.2 L427.7,1187.7 L428.5,1188.1 L429.3,1189.3 L429.9,1189.3 L430.6,1189.8 L431.2,1190.4 L431.8,1191.5 L432.5,1191.7 L433.2,1192.9 L434.0,1194.1 L434.8,1195.6 L435.6,1196.3 L436.4,1198.3 L437.2,1198.8 L438.0,1198.2 L438.8,1197.4 L439.6,1197.2 L440.3,1196.5 L441.1,1196.2 L441.9,1196.4 L442.7,1195.3 L443.5,1195.1 L444.3,1194.1 L445.1,1194.2 L445.9,1194.6 L446.7,1195.6 L447.4,1196.2 L448.2,1196.4 L449.0,1197.2 L450.0,1196.2 L450.8,1197.0 L451.6,1196.3 L452.4,1197.0 L453.2,1196.8 L453.9,1196.8 L454.7,1196.2 L455.5,1196.9 L456.3,1198.3 L457.1,1198.6 L457.9,1198.8 L458.7,1198.8 L459.5,1199.4 L460.3,1200.1 L461.0,1200.4 L461.8,1201.7 L462.6,1201.1 L463.4,1200.4 L464.2,1200.2 L465.0,1200.6 L465.8,1200.5 L466.6,1200.2 L467.4,1199.9 L468.1,1199.1 L468.9,1199.4 L470.5,1193.1 L471.3,1190.4 L472.1,1188.3 L472.9,1187.5 L473.7,1187.0 L474.4,1186.8 L475.2,1186.2 L476.0,1186.6 L476.8,1186.0 L477.6,1185.3 L478.4,1184.9 L479.2,1185.2 L480.0,1186.2 L480.8,1186.3 L481.5,1186.8 L482.3,1189.3 L483.1,1190.7 L483.9,1191.8 L484.7,1193.1 L485.5,1194.3 L486.3,1194.8 L487.1,1195.4 L487.9,1196.0 L488.6,1196.2 L489.4,1196.2 L490.2,1195.9 L491.0,1195.2 L491.8,1195.4 L492.5,1194.3 L493.2,1194.3 L493.8,1193.1 L494.5,1194.3 L495.1,1195.1 L495.7,1195.4 L496.5,1196.0 L497.3,1197.2 L498.1,1197.8 L498.9,1197.6 L499.7,1196.9 L500.5,1196.2 L501.3,1195.5 L502.1,1194.1 L502.8,1193.1 L503.6,1194.3 L504.4,1195.4 L505.2,1196.2 L506.0,1195.4 L506.8,1195.6 L507.6,1194.6 L508.4,1194.9 L509.1,1193.6 L509.9,1193.8 L510.7,1193.8 L511.5,1193.3 L512.3,1192.3 L513.1,1192.5 L513.9,1191.8 L514.7,1192.3 L515.5,1192.4 L516.2,1191.3 L517.0,1191.5 L517.7,1191.5 L518.3,1190.6 L518.9,1189.9 L519.6,1190.2 L520.3,1191.1 L521.0,1192.3 L521.8,1192.9 L522.6,1193.4 L523.3,1193.8 L524.1,1194.9 L524.9,1195.9 L525.7,1196.2 L526.5,1196.2 L527.3,1196.2 L528.1,1197.0 L528.9,1196.9 L529.7,1195.4 L530.4,1195.4 L531.2,1195.3 L532.0,1194.0 L532.8,1193.8 L533.6,1192.2 L534.4,1189.9 L535.1,1190.5 L535.8,1190.8 L536.4,1190.7 L537.1,1190.0 L537.7,1189.5 L538.3,1188.3 L539.1,1187.5 L539.9,1187.5 L540.7,1186.8 L541.5,1186.8 L542.3,1187.7 L543.1,1187.5 L543.8,1186.8 L544.6,1185.4 L545.4,1184.4 L546.2,1183.9 L547.0,1182.8 L547.8,1182.8 L548.6,1181.8 L549.4,1181.9 L550.2,1181.2 L550.9,1180.4 L551.7,1180.1 L552.5,1178.9 L553.3,1178.5 L554.1,1177.4 L554.9,1177.3 L555.7,1176.3 L556.5,1176.0 L557.3,1174.9 L558.0,1176.1 L558.8,1177.3 L559.6,1178.7 L560.4,1181.2 L561.2,1181.9 L562.0,1182.1 L562.8,1182.0 L563.6,1181.8 L564.4,1182.6 L565.1,1182.8 L565.9,1183.5 L566.7,1184.7 L567.5,1185.2 L568.3,1185.2 L569.1,1185.4 L569.9,1186.0 L570.7,1186.5 L571.5,1187.5 L572.2,1187.5 L573.0,1187.4 L573.8,1187.6 L574.6,1188.3 L575.4,1188.7 L576.2,1189.3 L577.0,1189.1 L577.8,1189.4 L578.5,1189.6 L579.3,1189.9 L580.0,1190.6 L580.6,1190.7 L581.2,1190.7 L581.9,1188.9 L582.6,1188.5 L583.3,1186.8 L584.1,1186.4 L584.9,1186.5 L585.6,1186.8 L586.4,1187.1 L587.2,1186.7 L588.0,1186.8 L588.8,1187.1 L589.6,1186.4 L590.4,1186.8 L591.2,1188.0 L592.0,1188.0 L592.7,1189.1 L593.5,1189.0 L594.3,1189.6 L595.1,1189.9 L595.9,1190.0 L596.7,1190.5 L597.5,1190.7 L598.3,1191.7 L599.1,1192.0 L599.8,1192.3 L600.6,1191.7 L601.4,1192.1 L602.2,1192.3 L603.0,1192.6 L603.8,1192.8 L604.6,1193.1 L605.4,1193.8 L606.2,1194.1 L606.9,1194.6 L607.7,1194.7 L608.5,1195.4 L609.3,1196.2 L610.1,1197.1 L610.9,1197.1 L611.7,1197.8 L612.5,1198.3 L613.2,1198.9 L614.0,1198.6 L614.8,1199.5 L615.6,1200.4 L616.4,1200.9 L617.2,1201.6 L618.0,1201.8 L618.8,1202.5 L619.6,1202.7 L620.3,1202.0 L621.1,1201.7 L621.9,1201.7 L622.7,1200.5 L623.5,1200.2 L624.3,1200.3 L625.1,1199.9 L625.9,1199.4 L626.5,1199.5 L627.1,1199.3 L627.8,1199.0 L628.4,1199.7 L629.0,1199.4 L629.7,1199.2 L630.3,1199.5 L630.9,1199.0 L631.5,1198.9 L632.2,1199.4 L632.8,1198.7 L633.4,1199.1 L634.1,1198.1 L634.7,1198.5 L635.3,1197.8 L636.0,1197.8 L636.6,1198.2 L637.2,1198.1 L637.9,1198.6 L638.5,1198.6 L639.1,1198.1 L639.7,1198.5 L640.4,1199.1 L641.0,1198.2 L641.6,1198.6 L642.3,1198.9 L642.9,1198.7 L643.5,1198.8 L644.2,1198.7 L644.8,1199.4 L645.6,1198.4 L646.4,1198.6 L647.2,1188.3 L648.7,1198.3 L649.5,1199.3 L650.3,1199.7 L651.0,1199.8 L651.8,1199.4 L652.6,1198.6 L653.4,1197.5 L654.2,1197.4 L655.0,1196.0 L655.8,1195.9 L656.4,1197.3 L657.0,1198.5 L657.7,1199.8 L658.3,1199.4 L659.0,1199.3 L659.7,1198.3 L660.5,1198.3 L661.3,1198.3 L662.1,1197.5 L662.7,1196.9 L663.3,1197.3 L664.0,1197.2 L664.6,1197.1 L665.2,1196.7 L665.9,1197.1 L666.5,1197.7 L667.1,1197.4 L667.8,1198.4 L668.4,1198.3 L669.2,1198.2 L670.0,1198.4 L670.8,1198.3 L671.5,1198.4 L672.3,1198.0 L673.1,1197.5 L673.9,1197.5 L674.7,1197.7 L675.5,1198.3 L676.3,1198.1 L677.1,1198.4 L677.9,1198.3 L678.5,1199.1 L679.1,1199.3 L679.7,1199.1 L680.4,1199.4 L681.0,1199.8 L681.8,1200.2 L682.6,1199.6 L683.4,1199.8 L684.2,1199.2 L685.0,1198.3 L685.7,1198.3 L686.5,1197.7 L687.3,1197.8 L688.1,1197.5 L688.9,1197.4 L689.7,1197.1 L690.5,1196.7 L691.3,1195.7 L692.1,1195.1 L692.8,1196.4 L693.6,1196.8 L694.4,1197.5 L695.2,1197.1 L696.0,1197.0 L696.8,1197.5 L697.6,1197.5 L698.4,1197.0 L699.1,1195.9 L699.9,1196.6 L700.7,1196.5 L701.5,1196.7 L702.3,1196.5 L703.1,1196.2 L703.9,1196.7 L704.7,1195.6 L705.5,1195.1 L707.0,1189.6 L707.8,1188.0 L708.6,1187.4 L709.4,1185.6 L710.7,1192.0 L711.5,1194.0 L712.2,1195.1 L712.9,1196.5 L713.5,1196.8 L714.1,1198.3 L714.9,1197.7 L715.7,1197.5 L716.5,1197.5 L717.3,1197.2 L718.1,1195.5 L718.9,1195.1 L719.5,1194.1 L720.1,1192.7 L720.8,1191.2 L721.5,1190.0 L722.3,1188.8 L723.0,1190.9 L723.7,1191.7 L724.4,1193.5 L725.1,1194.9 L725.8,1195.8 L726.4,1197.5 L727.1,1196.8 L727.7,1196.4 L728.3,1196.7 L729.1,1196.0 L729.9,1195.2 L730.7,1195.1 L731.5,1193.8 L732.3,1194.1 L733.1,1192.7 L733.7,1190.9 L734.3,1190.0 L735.0,1188.0 L736.2,1195.1 L737.0,1195.1 L737.8,1194.8 L738.6,1194.3 L739.4,1193.7 L740.2,1193.2 L740.9,1192.0 L741.7,1191.6 L742.5,1190.6 L743.3,1189.6 L744.1,1189.9 L744.9,1190.3 L745.7,1190.4 L746.5,1189.0 L747.3,1187.3 L748.0,1185.6 L748.8,1187.6 L749.6,1189.6 L750.4,1188.9 L751.2,1189.4 L752.0,1188.8 L752.6,1190.4 L753.2,1191.5 L753.9,1193.5 L754.5,1194.4 L755.1,1196.3 L755.8,1196.8 L756.4,1198.3 L757.5,1188.8 L758.6,1174.6 L759.4,1172.1 L760.2,1169.9 L760.8,1168.9 L761.5,1167.5 L762.7,1177.8 L763.3,1178.4 L764.0,1178.1 L764.6,1178.5 L765.4,1178.4 L766.2,1178.5 L767.0,1178.5 L767.8,1178.8 L768.5,1180.5 L769.3,1180.9 L770.1,1179.9 L770.9,1180.4 L771.7,1179.3 L772.5,1178.4 L773.3,1177.9 L774.1,1177.8 L774.9,1178.7 L775.6,1179.2 L776.4,1179.3 L777.2,1179.0 L778.0,1179.4 L778.8,1179.3 L779.4,1180.9 L780.1,1182.7 L780.7,1184.1 L781.4,1185.3 L782.1,1187.6 L782.7,1188.8 L784.3,1177.8 L785.1,1176.7 L785.9,1174.6 L787.0,1171.5 L788.3,1177.8 L788.9,1178.8 L789.5,1179.3 L791.4,1173.0 L792.2,1171.9 L793.0,1169.9 L793.8,1169.3 L794.6,1167.6 L795.4,1166.7 L796.2,1166.3 L796.9,1165.1 L798.5,1158.8 L800.1,1149.4 L801.2,1158.8 L801.9,1160.8 L802.6,1162.1 L803.2,1163.6 L804.8,1169.9 L805.6,1170.2 L806.4,1171.5 L808.0,1190.4 L809.1,1192.0 L810.3,1169.9 L811.1,1168.4 L811.9,1166.7 L813.5,1176.2 L814.3,1175.8 L815.1,1174.6 L815.9,1174.9 L816.7,1175.8 L817.4,1176.2 L818.2,1178.2 L819.0,1179.4 L819.8,1180.9 L821.4,1187.2 L822.6,1196.7 L823.8,1185.6 L824.5,1187.5 L825.3,1190.4 L826.1,1191.0 L826.9,1191.2 L827.7,1192.0 L828.5,1193.4 L829.3,1194.2 L830.1,1195.1 L830.9,1196.0 L831.6,1197.6 L832.4,1198.3 L834.3,1207.7 L835.6,1212.5 L836.8,1198.3 L838.6,1191.4 L839.7,1200.9 L840.5,1199.2 L841.3,1197.0 L842.1,1195.4 L842.9,1195.7 L843.7,1195.8 L844.4,1195.4 L845.2,1195.5 L846.0,1195.3 L846.8,1194.6 L847.6,1194.0 L848.4,1193.2 L849.2,1192.2 L849.9,1192.1 L850.5,1191.7 L851.2,1191.4 L851.9,1193.3 L852.5,1193.9 L853.1,1195.4 L853.9,1195.4 L854.7,1196.6 L855.5,1196.9 L856.3,1197.5 L857.1,1198.0 L857.9,1198.5 L858.6,1200.5 L859.4,1201.9 L860.2,1204.0 L861.8,1191.4 L862.6,1166.2 L864.2,1153.6 L865.4,1174.1 L866.1,1175.3 L866.7,1176.8 L867.3,1178.8 L867.9,1179.1 L868.6,1179.3 L869.2,1178.8 L870.0,1179.8 L870.8,1180.4 L872.1,1163.0 L873.6,1150.4 L875.2,1137.8 L876.8,1129.1 L878.4,1140.9 L879.9,1147.3 L880.6,1147.9 L881.2,1149.9 L881.8,1150.4 L883.4,1161.5 L885.0,1167.8 L885.7,1167.1 L886.4,1165.7 L887.0,1164.6 L887.7,1165.1 L888.4,1167.1 L889.1,1167.8 L890.7,1161.5 L892.2,1170.9 L892.9,1172.1 L893.5,1173.2 L894.1,1174.1 L894.9,1174.6 L895.7,1176.4 L896.5,1177.2 L897.2,1177.8 L897.9,1179.3 L898.5,1180.4 L900.1,1188.3 L900.8,1189.2 L901.4,1190.7 L902.0,1192.2 L902.8,1191.3 L903.6,1189.9 L904.4,1188.3 L906.4,1180.4 L908.3,1174.1 L909.1,1172.1 L909.9,1169.3 L910.7,1167.5 L911.5,1166.2 L913.1,1153.6 L913.8,1151.1 L914.6,1148.8 L916.2,1155.1 L917.8,1163.0 L919.7,1170.9 L921.7,1177.2 L922.5,1179.7 L923.3,1182.0 L924.1,1182.0 L924.9,1182.9 L925.7,1183.5 L927.3,1174.1 L928.5,1161.5 L929.6,1182.0 L931.7,1189.8 L932.3,1189.6 L932.9,1188.5 L933.6,1187.5 L934.4,1187.1 L935.1,1185.7 L935.9,1185.1 L936.7,1185.6 L937.5,1186.0 L938.3,1185.9 L938.9,1184.8 L939.6,1183.2 L940.2,1182.0 L941.0,1183.2 L941.8,1185.1 L942.6,1182.2 L943.3,1180.4 L944.6,1170.9 L945.7,1162.2 L947.0,1178.8 L949.0,1185.1 L950.6,1174.1 L952.2,1150.4 L953.8,1144.1 L955.3,1159.9 L956.9,1153.6 L958.5,1144.9 L960.1,1163.0 L961.6,1170.9 L962.3,1169.8 L962.9,1168.2 L963.5,1166.2 L964.3,1164.4 L965.1,1163.0 L966.7,1155.1 L968.3,1174.1 L969.8,1185.1 L971.7,1193.0 L972.4,1194.9 L973.1,1196.0 L973.8,1197.7 L974.6,1198.7 L975.4,1199.3 L976.5,1182.0 L977.3,1134.6 L977.7,1087.0 L978.2,1040.0 L979.4,959.0 L980.2,959.0 L981.7,1040.0 L982.1,1071.5 L982.8,1100.0 L984.0,1111.0 L984.8,1134.6 L985.6,1171.0 L987.2,1178.8 L989.1,1186.7 L989.8,1188.4 L990.5,1189.1 L991.1,1190.6 L991.9,1188.9 L992.7,1186.7 L993.5,1185.1 L994.1,1186.7 L994.8,1187.7 L995.4,1189.8 L996.1,1190.4 L996.8,1191.2 L997.4,1192.2 L998.2,1193.2 L999.0,1192.9 L999.8,1193.8 L1000.6,1194.6 L1001.4,1194.4 L1002.2,1195.4 L1003.0,1196.4 L1003.8,1196.0 L1004.5,1196.9 L1005.3,1197.3 L1006.1,1198.2 L1006.9,1199.3 L1007.7,1199.9 L1008.5,1199.7 L1009.3,1199.6 L1010.1,1199.4 L1010.9,1198.4 L1011.6,1197.7 L1012.4,1196.8 L1013.2,1196.5 L1014.0,1196.2 L1014.6,1195.9 L1015.3,1196.4 L1015.9,1195.3 L1016.5,1195.2 L1017.2,1195.4 L1017.8,1196.0 L1018.4,1195.5 L1019.0,1196.7 L1019.6,1196.2 L1020.3,1196.7 L1021.0,1197.6 L1021.8,1198.5 L1022.6,1199.1 L1023.4,1200.1 L1024.2,1199.7 L1025.0,1200.7 L1025.8,1201.6 L1026.6,1201.4 L1027.4,1202.2 L1028.1,1201.7 L1028.9,1200.1 L1029.7,1199.9 L1030.5,1199.4 L1031.3,1197.9 L1032.1,1197.5 L1032.9,1198.5 L1033.7,1199.6 L1034.4,1201.5 L1036.0,1188.8 L1036.8,1188.6 L1037.6,1188.8 L1038.4,1201.5 L1039.2,1202.6 L1040.0,1204.6 L1040.8,1205.4 L1041.5,1205.8 L1042.3,1205.8 L1043.1,1206.2 L1043.9,1206.2 L1044.7,1204.8 L1045.5,1204.6 L1046.3,1204.6 L1047.1,1205.6 L1047.9,1205.4 L1048.6,1206.2 L1049.4,1206.1 L1050.2,1206.2 L1051.0,1206.7 L1051.8,1205.7 L1052.6,1206.2 L1053.4,1206.6 L1054.2,1206.4 L1055.0,1206.2 L1055.7,1206.1 L1056.5,1206.0 L1057.3,1205.4 L1058.1,1204.7 L1058.9,1204.5 L1059.7,1204.6 L1060.5,1203.7 L1061.3,1203.5 L1062.1,1203.0 L1062.8,1202.3 L1063.6,1201.5 L1064.4,1200.7 L1065.1,1199.5 L1065.8,1198.8 L1066.5,1197.5 L1067.1,1197.4 L1067.7,1196.7 L1068.4,1195.9 L1069.0,1197.0 L1069.6,1198.7 L1070.3,1200.7 L1070.9,1200.9 L1071.6,1201.4 L1072.3,1202.2 L1073.1,1202.3 L1073.9,1201.9 L1074.7,1202.2 L1075.5,1202.1 L1076.2,1201.5 L1077.0,1201.5 L1077.8,1198.9 L1078.6,1196.7 L1080.2,1174.6 L1081.8,1158.9 L1083.3,1174.6 L1084.4,1187.3 L1086.5,1196.7 L1088.1,1190.4 L1088.9,1188.3 L1089.7,1185.7 L1091.2,1196.7 L1092.0,1199.6 L1092.8,1201.5 L1094.4,1190.4 L1095.5,1179.4 L1096.8,1187.3 L1098.0,1199.9 L1099.6,1188.8 L1100.4,1186.9 L1101.2,1185.7 L1102.0,1187.9 L1102.7,1190.4 L1104.3,1203.0 L1105.9,1217.2 L1107.0,1224.3 L1108.1,1203.0 L1109.1,1187.3 L1110.6,1196.7 L1112.2,1187.3 L1113.3,1168.3 L1114.1,1170.4 L1114.9,1171.5 L1116.5,1177.8 L1117.3,1176.7 L1118.0,1176.2 L1119.6,1190.4 L1120.4,1189.1 L1121.2,1188.8 L1122.8,1199.9 L1124.4,1206.2 L1125.1,1207.4 L1125.9,1209.3 L1127.5,1201.5 L1128.3,1203.4 L1129.1,1204.6 L1130.7,1210.9 L1131.5,1210.4 L1132.2,1209.3 L1133.3,1177.8 L1134.0,1179.9 L1134.6,1180.9 L1135.4,1181.7 L1136.2,1182.5 L1137.4,1204.6 L1138.2,1201.7 L1139.0,1199.9 L1140.6,1190.4 L1141.2,1191.2 L1141.9,1192.8 L1142.5,1193.6 L1144.4,1185.7 L1145.1,1186.6 L1145.8,1187.4 L1146.4,1188.8 L1147.2,1191.1 L1148.0,1193.6 L1148.8,1195.9 L1149.6,1198.3 L1151.2,1190.4 L1152.0,1189.5 L1152.7,1188.8 L1154.3,1196.7 L1155.1,1198.2 L1155.9,1199.9 L1156.7,1197.9 L1157.5,1196.2 L1158.3,1195.1 L1159.1,1194.7 L1159.8,1193.8 L1160.6,1192.8 L1161.4,1192.4 L1162.2,1191.8 L1163.0,1192.0 L1163.8,1189.9 L1164.6,1188.4 L1165.4,1186.5 L1166.2,1187.4 L1166.9,1187.5 L1167.7,1188.0 L1168.5,1188.6 L1169.3,1188.1 L1170.1,1188.0 L1170.9,1186.9 L1171.7,1186.6 L1172.5,1185.7 L1173.1,1184.2 L1173.7,1182.5 L1175.3,1190.4 L1175.9,1192.1 L1176.6,1193.8 L1177.2,1195.1 L1178.0,1195.9 L1178.8,1197.7 L1179.6,1199.1 L1180.2,1199.9 L1180.9,1199.7 L1181.6,1200.7 L1182.2,1199.4 L1182.9,1198.7 L1183.5,1198.3 L1184.3,1197.5 L1185.1,1197.2 L1185.9,1196.7 L1186.7,1196.0 L1187.4,1195.8 L1188.2,1195.1 L1189.0,1194.3 L1189.8,1193.9 L1190.6,1193.6 L1191.4,1194.3 L1192.2,1194.7 L1193.0,1195.1 L1193.6,1196.4 L1194.2,1197.2 L1194.9,1197.5 L1195.6,1196.8 L1196.4,1196.7"/>
</g>
<rect x="37.77" y="749.6" width="1213.2" height="534.4" fill="none" stroke="#141414" stroke-width="1.65"/>
</svg>
</body></html>
